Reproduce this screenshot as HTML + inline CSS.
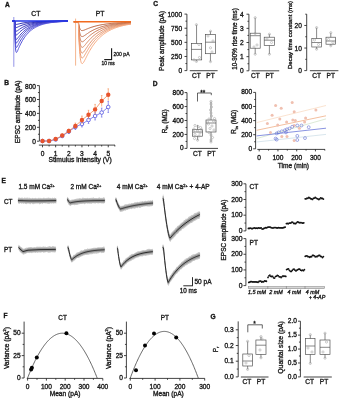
<!DOCTYPE html>
<html><head><meta charset="utf-8"><style>
html,body{margin:0;padding:0;background:#fff;}
svg{display:block;font-family:"Liberation Sans", sans-serif;}
text{-webkit-font-smoothing:antialiased;stroke:#1a1a1a;stroke-width:0.34px;}
.g{opacity:0.995}
</style></head><body>
<svg xmlns="http://www.w3.org/2000/svg" width="339" height="400" viewBox="0 0 339 400">
<defs><filter id="bl" x="0" y="0" width="100%" height="100%"><feGaussianBlur stdDeviation="0.0"/></filter></defs>
<rect width="339" height="400" fill="#fff"/>
<g class="g">
<text x="5.00" y="6.50" font-size="6.6" text-anchor="start" font-weight="bold" fill="#111">A</text>
<text x="4.20" y="85.30" font-size="6.6" text-anchor="start" font-weight="bold" fill="#111">B</text>
<text x="153.30" y="6.10" font-size="6.6" text-anchor="start" font-weight="bold" fill="#111">C</text>
<text x="152.80" y="86.40" font-size="6.6" text-anchor="start" font-weight="bold" fill="#111">D</text>
<text x="1.60" y="183.30" font-size="6.6" text-anchor="start" font-weight="bold" fill="#111">E</text>
<text x="3.50" y="318.20" font-size="6.6" text-anchor="start" font-weight="bold" fill="#111">F</text>
<text x="210.50" y="319.00" font-size="6.6" text-anchor="start" font-weight="bold" fill="#111">G</text>
<line x1="13.80" y1="17.00" x2="13.80" y2="66.80" stroke="#7878e0" stroke-width="0.8"/>
<polyline points="12.40,21.00 14.70,21.00 14.95,22.43 15.20,23.31 15.45,23.83 15.70,24.14 15.95,24.30 16.20,24.38 16.45,24.40 16.70,24.39 16.95,24.35 17.20,24.30 17.45,24.25 17.70,24.19 17.95,24.12 18.20,24.06 18.45,24.00 18.70,23.93 18.95,23.87 19.20,23.81 19.45,23.75 19.70,23.69 19.95,23.63 20.20,23.58 21.00,23.41 21.80,23.24 22.60,23.09 23.40,22.95 24.20,22.82 25.00,22.70 25.80,22.58 26.60,22.48 27.40,22.38 28.20,22.29 29.00,22.20 29.80,22.12 30.60,22.04 31.40,21.97 32.20,21.91 33.00,21.85 33.80,21.79 34.60,21.74 35.40,21.69 36.20,21.64 37.00,21.60 37.80,21.56 38.60,21.52 39.40,21.49 40.20,21.45 41.00,21.42 41.80,21.39 42.60,21.37 43.40,21.34 44.20,21.32 45.00,21.30 45.80,21.28 46.60,21.26 47.40,21.24 48.20,21.23 49.00,21.21 49.80,21.20 50.60,21.18 51.40,21.17 52.20,21.16 53.00,21.15 53.80,21.14 54.60,21.13 55.40,21.12 56.20,21.11 57.00,21.11 57.80,21.10 58.60,21.09 59.40,21.09 60.20,21.08 61.00,21.07 61.80,21.07 62.60,21.06 63.40,21.06 64.20,21.06 65.00,21.05 65.80,21.05 66.60,21.05 67.40,21.04 68.00,21.04" fill="none" stroke="#1010a8" stroke-width="1.0" stroke-linejoin="round"/>
<polyline points="12.40,21.00 14.70,21.00 14.95,23.73 15.20,25.41 15.45,26.42 15.70,27.00 15.95,27.31 16.20,27.46 16.45,27.50 16.70,27.47 16.95,27.41 17.20,27.31 17.45,27.21 17.70,27.09 17.95,26.97 18.20,26.85 18.45,26.73 18.70,26.61 18.95,26.49 19.20,26.38 19.45,26.26 19.70,26.15 19.95,26.04 20.20,25.93 21.00,25.60 21.80,25.29 22.60,25.00 23.40,24.73 24.20,24.48 25.00,24.25 25.80,24.03 26.60,23.83 27.40,23.64 28.20,23.46 29.00,23.29 29.80,23.14 30.60,23.00 31.40,22.86 32.20,22.74 33.00,22.62 33.80,22.51 34.60,22.41 35.40,22.31 36.20,22.23 37.00,22.14 37.80,22.07 38.60,22.00 39.40,21.93 40.20,21.87 41.00,21.81 41.80,21.75 42.60,21.70 43.40,21.66 44.20,21.61 45.00,21.57 45.80,21.53 46.60,21.50 47.40,21.46 48.20,21.43 49.00,21.40 49.80,21.38 50.60,21.35 51.40,21.33 52.20,21.31 53.00,21.28 53.80,21.27 54.60,21.25 55.40,21.23 56.20,21.22 57.00,21.20 57.80,21.19 58.60,21.17 59.40,21.16 60.20,21.15 61.00,21.14 61.80,21.13 62.60,21.12 63.40,21.12 64.20,21.11 65.00,21.10 65.80,21.09 66.60,21.09 67.40,21.08 68.00,21.08" fill="none" stroke="#1919af" stroke-width="1.0" stroke-linejoin="round"/>
<polyline points="12.40,21.00 14.70,21.00 14.95,25.29 15.20,27.92 15.45,29.50 15.70,30.41 15.95,30.91 16.20,31.14 16.45,31.20 16.70,31.16 16.95,31.05 17.20,30.91 17.45,30.74 17.70,30.56 17.95,30.37 18.20,30.18 18.45,29.99 18.70,29.80 18.95,29.62 19.20,29.43 19.45,29.25 19.70,29.08 19.95,28.90 20.20,28.74 21.00,28.22 21.80,27.73 22.60,27.28 23.40,26.86 24.20,26.46 25.00,26.10 25.80,25.75 26.60,25.43 27.40,25.14 28.20,24.86 29.00,24.60 29.80,24.36 30.60,24.13 31.40,23.92 32.20,23.72 33.00,23.54 33.80,23.37 34.60,23.21 35.40,23.06 36.20,22.92 37.00,22.79 37.80,22.67 38.60,22.56 39.40,22.46 40.20,22.36 41.00,22.27 41.80,22.18 42.60,22.10 43.40,22.03 44.20,21.96 45.00,21.90 45.80,21.84 46.60,21.78 47.40,21.73 48.20,21.68 49.00,21.63 49.80,21.59 50.60,21.55 51.40,21.51 52.20,21.48 53.00,21.45 53.80,21.42 54.60,21.39 55.40,21.36 56.20,21.34 57.00,21.32 57.80,21.29 58.60,21.27 59.40,21.26 60.20,21.24 61.00,21.22 61.80,21.21 62.60,21.19 63.40,21.18 64.20,21.17 65.00,21.16 65.80,21.15 66.60,21.14 67.40,21.13 68.00,21.12" fill="none" stroke="#2121b6" stroke-width="1.0" stroke-linejoin="round"/>
<polyline points="12.40,21.00 14.70,21.00 14.95,26.89 15.20,30.50 15.45,32.67 15.70,33.92 15.95,34.60 16.20,34.91 16.45,35.00 16.70,34.94 16.95,34.80 17.20,34.60 17.45,34.37 17.70,34.12 17.95,33.87 18.20,33.60 18.45,33.34 18.70,33.08 18.95,32.83 19.20,32.58 19.45,32.33 19.70,32.09 19.95,31.85 20.20,31.62 21.00,30.90 21.80,30.24 22.60,29.62 23.40,29.04 24.20,28.50 25.00,27.99 25.80,27.52 26.60,27.09 27.40,26.68 28.20,26.30 29.00,25.94 29.80,25.61 30.60,25.30 31.40,25.01 32.20,24.74 33.00,24.49 33.80,24.25 34.60,24.04 35.40,23.83 36.20,23.64 37.00,23.46 37.80,23.30 38.60,23.14 39.40,23.00 40.20,22.87 41.00,22.74 41.80,22.62 42.60,22.51 43.40,22.41 44.20,22.32 45.00,22.23 45.80,22.15 46.60,22.07 47.40,22.00 48.20,21.93 49.00,21.87 49.80,21.81 50.60,21.76 51.40,21.70 52.20,21.66 53.00,21.61 53.80,21.57 54.60,21.53 55.40,21.50 56.20,21.46 57.00,21.43 57.80,21.40 58.60,21.38 59.40,21.35 60.20,21.33 61.00,21.31 61.80,21.29 62.60,21.27 63.40,21.25 64.20,21.23 65.00,21.22 65.80,21.20 66.60,21.19 67.40,21.18 68.00,21.17" fill="none" stroke="#2a2abd" stroke-width="1.0" stroke-linejoin="round"/>
<polyline points="12.40,21.00 14.70,21.00 14.95,28.74 15.20,33.48 15.45,36.33 15.70,37.98 15.95,38.87 16.20,39.29 16.45,39.40 16.70,39.33 16.95,39.14 17.20,38.87 17.45,38.57 17.70,38.25 17.95,37.91 18.20,37.57 18.45,37.22 18.70,36.88 18.95,36.55 19.20,36.22 19.45,35.89 19.70,35.57 19.95,35.26 20.20,34.95 21.00,34.02 21.80,33.14 22.60,32.33 23.40,31.56 24.20,30.85 25.00,30.19 25.80,29.57 26.60,29.00 27.40,28.46 28.20,27.96 29.00,27.49 29.80,27.06 30.60,26.65 31.40,26.27 32.20,25.92 33.00,25.58 33.80,25.28 34.60,24.99 35.40,24.72 36.20,24.47 37.00,24.24 37.80,24.02 38.60,23.82 39.40,23.63 40.20,23.45 41.00,23.29 41.80,23.13 42.60,22.99 43.40,22.86 44.20,22.73 45.00,22.61 45.80,22.51 46.60,22.41 47.40,22.31 48.20,22.22 49.00,22.14 49.80,22.06 50.60,21.99 51.40,21.93 52.20,21.86 53.00,21.81 53.80,21.75 54.60,21.70 55.40,21.65 56.20,21.61 57.00,21.57 57.80,21.53 58.60,21.49 59.40,21.46 60.20,21.43 61.00,21.40 61.80,21.37 62.60,21.35 63.40,21.33 64.20,21.30 65.00,21.28 65.80,21.26 66.60,21.25 67.40,21.23 68.00,21.22" fill="none" stroke="#3232c3" stroke-width="1.0" stroke-linejoin="round"/>
<polyline points="12.40,21.00 14.70,21.00 14.95,30.25 15.20,35.93 15.45,39.33 15.70,41.31 15.95,42.37 16.20,42.87 16.45,43.00 16.70,42.91 16.95,42.68 17.20,42.37 17.45,42.01 17.70,41.62 17.95,41.22 18.20,40.81 18.45,40.40 18.70,39.99 18.95,39.59 19.20,39.19 19.45,38.80 19.70,38.42 19.95,38.05 20.20,37.68 21.00,36.56 21.80,35.52 22.60,34.54 23.40,33.63 24.20,32.78 25.00,31.99 25.80,31.25 26.60,30.56 27.40,29.92 28.20,29.32 29.00,28.76 29.80,28.24 30.60,27.75 31.40,27.30 32.20,26.88 33.00,26.48 33.80,26.11 34.60,25.77 35.40,25.45 36.20,25.15 37.00,24.87 37.80,24.61 38.60,24.37 39.40,24.14 40.20,23.93 41.00,23.73 41.80,23.55 42.60,23.38 43.40,23.22 44.20,23.07 45.00,22.93 45.80,22.80 46.60,22.68 47.40,22.57 48.20,22.46 49.00,22.36 49.80,22.27 50.60,22.19 51.40,22.11 52.20,22.03 53.00,21.96 53.80,21.90 54.60,21.84 55.40,21.78 56.20,21.73 57.00,21.68 57.80,21.63 58.60,21.59 59.40,21.55 60.20,21.51 61.00,21.48 61.80,21.45 62.60,21.42 63.40,21.39 64.20,21.36 65.00,21.34 65.80,21.32 66.60,21.30 67.40,21.28 68.00,21.26" fill="none" stroke="#3b3bca" stroke-width="1.0" stroke-linejoin="round"/>
<polyline points="12.40,21.00 14.70,21.00 14.95,32.15 15.20,38.98 15.45,43.08 15.70,45.46 15.95,46.74 16.20,47.34 16.45,47.50 16.70,47.39 16.95,47.12 17.20,46.74 17.45,46.31 17.70,45.84 17.95,45.35 18.20,44.86 18.45,44.37 18.70,43.88 18.95,43.39 19.20,42.91 19.45,42.45 19.70,41.99 19.95,41.54 20.20,41.10 21.00,39.75 21.80,38.49 22.60,37.31 23.40,36.22 24.20,35.19 25.00,34.24 25.80,33.35 26.60,32.52 27.40,31.75 28.20,31.02 29.00,30.35 29.80,29.72 30.60,29.14 31.40,28.59 32.20,28.08 33.00,27.60 33.80,27.16 34.60,26.75 35.40,26.36 36.20,26.00 37.00,25.66 37.80,25.35 38.60,25.06 39.40,24.78 40.20,24.53 41.00,24.29 41.80,24.07 42.60,23.87 43.40,23.67 44.20,23.49 45.00,23.33 45.80,23.17 46.60,23.02 47.40,22.89 48.20,22.76 49.00,22.64 49.80,22.53 50.60,22.43 51.40,22.33 52.20,22.24 53.00,22.16 53.80,22.08 54.60,22.01 55.40,21.94 56.20,21.88 57.00,21.82 57.80,21.76 58.60,21.71 59.40,21.66 60.20,21.62 61.00,21.58 61.80,21.54 62.60,21.50 63.40,21.47 64.20,21.44 65.00,21.41 65.80,21.38 66.60,21.36 67.40,21.33 68.00,21.31" fill="none" stroke="#4343d1" stroke-width="1.0" stroke-linejoin="round"/>
<polyline points="12.40,21.00 14.70,21.00 14.95,34.25 15.20,42.37 15.45,47.25 15.70,50.07 15.95,51.60 16.20,52.31 16.45,52.50 16.70,52.37 16.95,52.05 17.20,51.60 17.45,51.08 17.70,50.53 17.95,49.95 18.20,49.36 18.45,48.77 18.70,48.19 18.95,47.62 19.20,47.05 19.45,46.49 19.70,45.95 19.95,45.41 20.20,44.89 21.00,43.28 21.80,41.79 22.60,40.39 23.40,39.09 24.20,37.87 25.00,36.74 25.80,35.68 26.60,34.69 27.40,33.77 28.20,32.91 29.00,32.11 29.80,31.37 30.60,30.67 31.40,30.02 32.20,29.41 33.00,28.85 33.80,28.32 34.60,27.83 35.40,27.37 36.20,26.94 37.00,26.54 37.80,26.17 38.60,25.82 39.40,25.50 40.20,25.20 41.00,24.91 41.80,24.65 42.60,24.41 43.40,24.18 44.20,23.96 45.00,23.76 45.80,23.58 46.60,23.41 47.40,23.24 48.20,23.09 49.00,22.95 49.80,22.82 50.60,22.70 51.40,22.58 52.20,22.48 53.00,22.38 53.80,22.29 54.60,22.20 55.40,22.12 56.20,22.04 57.00,21.97 57.80,21.91 58.60,21.85 59.40,21.79 60.20,21.74 61.00,21.69 61.80,21.64 62.60,21.60 63.40,21.56 64.20,21.52 65.00,21.49 65.80,21.45 66.60,21.42 67.40,21.39 68.00,21.37" fill="none" stroke="#4c4cd8" stroke-width="1.0" stroke-linejoin="round"/>
<line x1="12.40" y1="21.00" x2="68.00" y2="21.00" stroke="#2233e6" stroke-width="1.6"/>
<line x1="75.60" y1="18.60" x2="75.60" y2="65.60" stroke="#f0a070" stroke-width="0.8"/>
<polyline points="73.70,21.80 78.40,21.80 78.65,23.59 78.90,25.07 79.15,26.28 79.40,27.26 79.65,28.06 79.90,28.70 80.15,29.21 80.40,29.61 80.65,29.92 80.90,30.16 81.15,30.34 81.40,30.46 81.65,30.54 81.90,30.58 82.15,30.60 82.40,30.59 82.65,30.56 82.90,30.52 83.15,30.46 83.40,30.39 83.65,30.31 83.90,30.22 84.15,30.13 84.40,30.04 84.65,29.94 84.90,29.84 85.15,29.73 85.40,29.63 85.65,29.52 85.90,29.42 86.15,29.31 86.40,29.20 86.65,29.10 86.90,28.99 87.15,28.89 87.40,28.79 87.65,28.68 87.90,28.58 88.15,28.48 88.40,28.38 88.65,28.29 88.90,28.19 89.15,28.09 89.40,28.00 89.65,27.91 89.90,27.82 90.70,27.53 91.50,27.26 92.30,27.00 93.10,26.76 93.90,26.52 94.70,26.30 95.50,26.09 96.30,25.88 97.10,25.69 97.90,25.51 98.70,25.33 99.50,25.16 100.30,25.01 101.10,24.85 101.90,24.71 102.70,24.57 103.50,24.44 104.30,24.32 105.10,24.20 105.90,24.08 106.70,23.97 107.50,23.87 108.30,23.77 109.10,23.68 109.90,23.59 110.70,23.51 111.50,23.43 112.30,23.35 113.10,23.28 113.90,23.21 114.70,23.14 115.50,23.08 116.30,23.02 117.10,22.96 117.90,22.90 118.70,22.85 119.50,22.80 120.30,22.75 121.10,22.71 121.90,22.67 122.70,22.62 123.50,22.59 124.30,22.55 125.10,22.51 125.90,22.48 126.70,22.45 127.50,22.42 128.30,22.39 129.10,22.36 129.90,22.33 130.70,22.31 131.00,22.30" fill="none" stroke="#b0542e" stroke-width="1.0" stroke-linejoin="round"/>
<polyline points="73.70,21.80 78.40,21.80 78.65,24.82 78.90,27.30 79.15,29.33 79.40,30.98 79.65,32.32 79.90,33.40 80.15,34.26 80.40,34.94 80.65,35.46 80.90,35.86 81.15,36.16 81.40,36.36 81.65,36.50 81.90,36.57 82.15,36.60 82.40,36.58 82.65,36.54 82.90,36.46 83.15,36.36 83.40,36.24 83.65,36.11 83.90,35.97 84.15,35.81 84.40,35.65 84.65,35.48 84.90,35.31 85.15,35.14 85.40,34.96 85.65,34.79 85.90,34.61 86.15,34.43 86.40,34.25 86.65,34.07 86.90,33.90 87.15,33.72 87.40,33.55 87.65,33.38 87.90,33.21 88.15,33.04 88.40,32.87 88.65,32.71 88.90,32.55 89.15,32.39 89.40,32.23 89.65,32.07 89.90,31.92 90.70,31.44 91.50,30.99 92.30,30.55 93.10,30.14 93.90,29.75 94.70,29.37 95.50,29.01 96.30,28.67 97.10,28.34 97.90,28.04 98.70,27.74 99.50,27.46 100.30,27.19 101.10,26.94 101.90,26.69 102.70,26.46 103.50,26.24 104.30,26.03 105.10,25.83 105.90,25.64 106.70,25.46 107.50,25.28 108.30,25.12 109.10,24.96 109.90,24.81 110.70,24.67 111.50,24.53 112.30,24.41 113.10,24.28 113.90,24.16 114.70,24.05 115.50,23.95 116.30,23.84 117.10,23.75 117.90,23.66 118.70,23.57 119.50,23.48 120.30,23.40 121.10,23.33 121.90,23.26 122.70,23.19 123.50,23.12 124.30,23.06 125.10,23.00 125.90,22.94 126.70,22.89 127.50,22.84 128.30,22.79 129.10,22.74 129.90,22.70 130.70,22.65 131.00,22.64" fill="none" stroke="#bc613a" stroke-width="1.0" stroke-linejoin="round"/>
<polyline points="73.70,21.80 78.40,21.80 78.65,25.88 78.90,29.23 79.15,31.97 79.40,34.21 79.65,36.02 79.90,37.47 80.15,38.64 80.40,39.55 80.65,40.26 80.90,40.80 81.15,41.20 81.40,41.48 81.65,41.66 81.90,41.77 82.15,41.80 82.40,41.78 82.65,41.71 82.90,41.61 83.15,41.48 83.40,41.32 83.65,41.14 83.90,40.94 84.15,40.74 84.40,40.52 84.65,40.29 84.90,40.06 85.15,39.83 85.40,39.59 85.65,39.35 85.90,39.11 86.15,38.87 86.40,38.63 86.65,38.39 86.90,38.15 87.15,37.91 87.40,37.68 87.65,37.44 87.90,37.22 88.15,36.99 88.40,36.76 88.65,36.54 88.90,36.32 89.15,36.11 89.40,35.89 89.65,35.68 89.90,35.48 90.70,34.83 91.50,34.22 92.30,33.63 93.10,33.07 93.90,32.54 94.70,32.03 95.50,31.54 96.30,31.08 97.10,30.64 97.90,30.23 98.70,29.83 99.50,29.45 100.30,29.09 101.10,28.74 101.90,28.41 102.70,28.10 103.50,27.80 104.30,27.52 105.10,27.25 105.90,26.99 106.70,26.74 107.50,26.51 108.30,26.29 109.10,26.07 109.90,25.87 110.70,25.68 111.50,25.50 112.30,25.32 113.10,25.15 113.90,25.00 114.70,24.84 115.50,24.70 116.30,24.56 117.10,24.43 117.90,24.31 118.70,24.19 119.50,24.08 120.30,23.97 121.10,23.87 121.90,23.77 122.70,23.67 123.50,23.59 124.30,23.50 125.10,23.42 125.90,23.34 126.70,23.27 127.50,23.20 128.30,23.13 129.10,23.07 129.90,23.01 130.70,22.95 131.00,22.93" fill="none" stroke="#c76f47" stroke-width="1.0" stroke-linejoin="round"/>
<polyline points="73.70,21.80 78.40,21.80 78.65,27.02 78.90,31.31 79.15,34.82 79.40,37.68 79.65,40.00 79.90,41.86 80.15,43.35 80.40,44.52 80.65,45.43 80.90,46.12 81.15,46.63 81.40,46.99 81.65,47.23 81.90,47.36 82.15,47.40 82.40,47.37 82.65,47.29 82.90,47.16 83.15,46.98 83.40,46.78 83.65,46.55 83.90,46.30 84.15,46.04 84.40,45.76 84.65,45.47 84.90,45.17 85.15,44.87 85.40,44.57 85.65,44.26 85.90,43.95 86.15,43.64 86.40,43.34 86.65,43.03 86.90,42.73 87.15,42.42 87.40,42.12 87.65,41.83 87.90,41.53 88.15,41.24 88.40,40.95 88.65,40.67 88.90,40.39 89.15,40.11 89.40,39.84 89.65,39.57 89.90,39.30 90.70,38.48 91.50,37.69 92.30,36.94 93.10,36.23 93.90,35.54 94.70,34.89 95.50,34.27 96.30,33.68 97.10,33.12 97.90,32.58 98.70,32.07 99.50,31.59 100.30,31.13 101.10,30.68 101.90,30.26 102.70,29.86 103.50,29.48 104.30,29.12 105.10,28.77 105.90,28.44 106.70,28.13 107.50,27.83 108.30,27.54 109.10,27.27 109.90,27.01 110.70,26.76 111.50,26.53 112.30,26.31 113.10,26.09 113.90,25.89 114.70,25.70 115.50,25.51 116.30,25.34 117.10,25.17 117.90,25.01 118.70,24.86 119.50,24.71 120.30,24.57 121.10,24.44 121.90,24.32 122.70,24.20 123.50,24.09 124.30,23.98 125.10,23.87 125.90,23.78 126.70,23.68 127.50,23.59 128.30,23.51 129.10,23.43 129.90,23.35 130.70,23.28 131.00,23.25" fill="none" stroke="#d37c53" stroke-width="1.0" stroke-linejoin="round"/>
<polyline points="73.70,21.80 78.40,21.80 78.65,28.16 78.90,33.39 79.15,37.67 79.40,41.16 79.65,43.98 79.90,46.25 80.15,48.06 80.40,49.49 80.65,50.60 80.90,51.44 81.15,52.06 81.40,52.50 81.65,52.79 81.90,52.95 82.15,53.00 82.40,52.97 82.65,52.86 82.90,52.70 83.15,52.49 83.40,52.25 83.65,51.97 83.90,51.66 84.15,51.34 84.40,51.00 84.65,50.65 84.90,50.29 85.15,49.92 85.40,49.55 85.65,49.17 85.90,48.80 86.15,48.42 86.40,48.05 86.65,47.67 86.90,47.30 87.15,46.93 87.40,46.57 87.65,46.21 87.90,45.85 88.15,45.49 88.40,45.14 88.65,44.80 88.90,44.46 89.15,44.12 89.40,43.79 89.65,43.46 89.90,43.13 90.70,42.13 91.50,41.17 92.30,40.25 93.10,39.38 93.90,38.55 94.70,37.76 95.50,37.00 96.30,36.28 97.10,35.60 97.90,34.94 98.70,34.32 99.50,33.73 100.30,33.16 101.10,32.63 101.90,32.11 102.70,31.63 103.50,31.16 104.30,30.72 105.10,30.30 105.90,29.89 106.70,29.51 107.50,29.15 108.30,28.80 109.10,28.47 109.90,28.15 110.70,27.85 111.50,27.56 112.30,27.29 113.10,27.03 113.90,26.78 114.70,26.55 115.50,26.32 116.30,26.11 117.10,25.91 117.90,25.71 118.70,25.53 119.50,25.35 120.30,25.18 121.10,25.02 121.90,24.87 122.70,24.72 123.50,24.59 124.30,24.45 125.10,24.33 125.90,24.21 126.70,24.09 127.50,23.99 128.30,23.88 129.10,23.78 129.90,23.69 130.70,23.60 131.00,23.57" fill="none" stroke="#df895f" stroke-width="1.0" stroke-linejoin="round"/>
<polyline points="73.70,21.80 78.40,21.80 78.65,29.18 78.90,35.25 79.15,40.21 79.40,44.26 79.65,47.53 79.90,50.17 80.15,52.27 80.40,53.93 80.65,55.22 80.90,56.19 81.15,56.91 81.40,57.42 81.65,57.75 81.90,57.94 82.15,58.00 82.40,57.96 82.65,57.84 82.90,57.66 83.15,57.41 83.40,57.13 83.65,56.80 83.90,56.45 84.15,56.07 84.40,55.68 84.65,55.27 84.90,54.85 85.15,54.43 85.40,54.00 85.65,53.56 85.90,53.13 86.15,52.69 86.40,52.25 86.65,51.82 86.90,51.39 87.15,50.96 87.40,50.54 87.65,50.12 87.90,49.70 88.15,49.29 88.40,48.88 88.65,48.48 88.90,48.09 89.15,47.69 89.40,47.31 89.65,46.93 89.90,46.55 90.70,45.39 91.50,44.27 92.30,43.21 93.10,42.20 93.90,41.23 94.70,40.31 95.50,39.44 96.30,38.60 97.10,37.81 97.90,37.05 98.70,36.33 99.50,35.64 100.30,34.99 101.10,34.36 101.90,33.77 102.70,33.20 103.50,32.66 104.30,32.15 105.10,31.66 105.90,31.19 106.70,30.75 107.50,30.32 108.30,29.92 109.10,29.54 109.90,29.17 110.70,28.82 111.50,28.49 112.30,28.17 113.10,27.87 113.90,27.58 114.70,27.31 115.50,27.05 116.30,26.80 117.10,26.56 117.90,26.34 118.70,26.12 119.50,25.92 120.30,25.72 121.10,25.54 121.90,25.36 122.70,25.19 123.50,25.03 124.30,24.88 125.10,24.73 125.90,24.59 126.70,24.46 127.50,24.34 128.30,24.22 129.10,24.10 129.90,23.99 130.70,23.89 131.00,23.85" fill="none" stroke="#ea976c" stroke-width="1.0" stroke-linejoin="round"/>
<polyline points="73.70,21.80 78.40,21.80 78.65,30.33 78.90,37.33 79.15,43.06 79.40,47.73 79.65,51.51 79.90,54.56 80.15,56.99 80.40,58.90 80.65,60.39 80.90,61.51 81.15,62.35 81.40,62.93 81.65,63.31 81.90,63.53 82.15,63.60 82.40,63.56 82.65,63.42 82.90,63.20 83.15,62.92 83.40,62.59 83.65,62.22 83.90,61.81 84.15,61.38 84.40,60.92 84.65,60.45 84.90,59.97 85.15,59.47 85.40,58.98 85.65,58.48 85.90,57.97 86.15,57.47 86.40,56.97 86.65,56.46 86.90,55.97 87.15,55.47 87.40,54.98 87.65,54.50 87.90,54.02 88.15,53.54 88.40,53.07 88.65,52.61 88.90,52.15 89.15,51.70 89.40,51.25 89.65,50.82 89.90,50.38 90.70,49.04 91.50,47.75 92.30,46.52 93.10,45.35 93.90,44.24 94.70,43.18 95.50,42.17 96.30,41.20 97.10,40.28 97.90,39.41 98.70,38.58 99.50,37.78 100.30,37.03 101.10,36.31 101.90,35.62 102.70,34.96 103.50,34.34 104.30,33.75 105.10,33.18 105.90,32.64 106.70,32.13 107.50,31.64 108.30,31.18 109.10,30.73 109.90,30.31 110.70,29.91 111.50,29.52 112.30,29.16 113.10,28.81 113.90,28.48 114.70,28.16 115.50,27.86 116.30,27.57 117.10,27.30 117.90,27.04 118.70,26.79 119.50,26.56 120.30,26.33 121.10,26.12 121.90,25.91 122.70,25.72 123.50,25.53 124.30,25.36 125.10,25.19 125.90,25.03 126.70,24.87 127.50,24.73 128.30,24.59 129.10,24.46 129.90,24.33 130.70,24.21 131.00,24.17" fill="none" stroke="#f6a478" stroke-width="1.0" stroke-linejoin="round"/>
<line x1="73.70" y1="21.80" x2="131.00" y2="21.80" stroke="#f26a1e" stroke-width="1.6"/>
<text x="35.90" y="15.70" font-size="6.8" text-anchor="middle" fill="#1a1a1a">CT</text>
<text x="100.10" y="15.70" font-size="6.8" text-anchor="middle" fill="#1a1a1a">PT</text>
<line x1="111.60" y1="48.30" x2="111.60" y2="59.60" stroke="#111" stroke-width="1.1"/>
<line x1="104.20" y1="59.60" x2="112.10" y2="59.60" stroke="#111" stroke-width="1.1"/>
<text x="113.50" y="56.20" font-size="5.8" text-anchor="start" fill="#1a1a1a" textLength="16.0" lengthAdjust="spacingAndGlyphs">200 pA</text>
<text x="101.40" y="65.20" font-size="5.8" text-anchor="start" fill="#1a1a1a" textLength="13.4" lengthAdjust="spacingAndGlyphs">10 ms</text>
<line x1="186.90" y1="14.10" x2="186.90" y2="70.60" stroke="#222" stroke-width="0.85"/>
<line x1="184.50" y1="70.60" x2="186.90" y2="70.60" stroke="#222" stroke-width="0.85"/>
<text x="182.10" y="73.25" font-size="6.6" text-anchor="end" fill="#1a1a1a">0</text>
<line x1="184.50" y1="56.47" x2="186.90" y2="56.47" stroke="#222" stroke-width="0.85"/>
<text x="182.10" y="59.12" font-size="6.6" text-anchor="end" fill="#1a1a1a">250</text>
<line x1="184.50" y1="42.35" x2="186.90" y2="42.35" stroke="#222" stroke-width="0.85"/>
<text x="182.10" y="45.00" font-size="6.6" text-anchor="end" fill="#1a1a1a">500</text>
<line x1="184.50" y1="28.23" x2="186.90" y2="28.23" stroke="#222" stroke-width="0.85"/>
<text x="182.10" y="30.88" font-size="6.6" text-anchor="end" fill="#1a1a1a">750</text>
<line x1="184.50" y1="14.10" x2="186.90" y2="14.10" stroke="#222" stroke-width="0.85"/>
<text x="182.10" y="16.75" font-size="6.6" text-anchor="end" fill="#1a1a1a">1000</text>
<line x1="185.46" y1="63.54" x2="186.90" y2="63.54" stroke="#222" stroke-width="0.85"/>
<line x1="185.46" y1="49.41" x2="186.90" y2="49.41" stroke="#222" stroke-width="0.85"/>
<line x1="185.46" y1="35.29" x2="186.90" y2="35.29" stroke="#222" stroke-width="0.85"/>
<line x1="185.46" y1="21.16" x2="186.90" y2="21.16" stroke="#222" stroke-width="0.85"/>
<line x1="189.80" y1="70.70" x2="217.60" y2="70.70" stroke="#222" stroke-width="0.85"/>
<line x1="196.55" y1="24.70" x2="196.55" y2="43.40" stroke="#484848" stroke-width="0.65"/>
<line x1="196.55" y1="59.90" x2="196.55" y2="61.40" stroke="#484848" stroke-width="0.65"/>
<rect x="191.40" y="43.40" width="10.30" height="16.50" fill="none" stroke="#484848" stroke-width="0.65"/>
<line x1="191.40" y1="49.40" x2="201.70" y2="49.40" stroke="#484848" stroke-width="0.65"/>
<circle cx="196.40" cy="24.70" r="1.1" fill="none" stroke="#9a9a9a" stroke-width="0.5"/>
<circle cx="199.00" cy="44.50" r="1.1" fill="none" stroke="#9a9a9a" stroke-width="0.5"/>
<circle cx="199.50" cy="57.50" r="1.1" fill="none" stroke="#9a9a9a" stroke-width="0.5"/>
<circle cx="194.00" cy="59.90" r="1.1" fill="none" stroke="#9a9a9a" stroke-width="0.5"/>
<circle cx="196.40" cy="61.40" r="1.1" fill="none" stroke="#9a9a9a" stroke-width="0.5"/>
<line x1="210.45" y1="31.20" x2="210.45" y2="34.40" stroke="#484848" stroke-width="0.65"/>
<line x1="210.45" y1="53.70" x2="210.45" y2="61.60" stroke="#484848" stroke-width="0.65"/>
<rect x="205.40" y="34.40" width="10.10" height="19.30" fill="none" stroke="#484848" stroke-width="0.65"/>
<line x1="205.40" y1="42.20" x2="215.50" y2="42.20" stroke="#484848" stroke-width="0.65"/>
<circle cx="210.50" cy="31.20" r="1.1" fill="none" stroke="#9a9a9a" stroke-width="0.5"/>
<circle cx="208.00" cy="36.00" r="1.1" fill="none" stroke="#9a9a9a" stroke-width="0.5"/>
<circle cx="213.00" cy="41.00" r="1.1" fill="none" stroke="#9a9a9a" stroke-width="0.5"/>
<circle cx="210.50" cy="47.80" r="1.1" fill="none" stroke="#9a9a9a" stroke-width="0.5"/>
<circle cx="212.00" cy="52.00" r="1.1" fill="none" stroke="#9a9a9a" stroke-width="0.5"/>
<circle cx="210.50" cy="61.60" r="1.1" fill="none" stroke="#9a9a9a" stroke-width="0.5"/>
<text x="196.50" y="78.00" font-size="6.6" text-anchor="middle" fill="#1a1a1a">CT</text>
<text x="210.50" y="78.00" font-size="6.6" text-anchor="middle" fill="#1a1a1a">PT</text>
<text x="164.30" y="41.00" font-size="6.6" text-anchor="middle" fill="#1a1a1a" transform="rotate(-90 164.3 41.0)">Peak amplitude (pA)</text>
<line x1="248.90" y1="14.20" x2="248.90" y2="70.80" stroke="#222" stroke-width="0.85"/>
<line x1="246.50" y1="70.80" x2="248.90" y2="70.80" stroke="#222" stroke-width="0.85"/>
<text x="243.70" y="73.45" font-size="6.6" text-anchor="end" fill="#1a1a1a">0</text>
<line x1="246.50" y1="56.65" x2="248.90" y2="56.65" stroke="#222" stroke-width="0.85"/>
<text x="243.70" y="59.30" font-size="6.6" text-anchor="end" fill="#1a1a1a">1</text>
<line x1="246.50" y1="42.50" x2="248.90" y2="42.50" stroke="#222" stroke-width="0.85"/>
<text x="243.70" y="45.15" font-size="6.6" text-anchor="end" fill="#1a1a1a">2</text>
<line x1="246.50" y1="28.35" x2="248.90" y2="28.35" stroke="#222" stroke-width="0.85"/>
<text x="243.70" y="31.00" font-size="6.6" text-anchor="end" fill="#1a1a1a">3</text>
<line x1="246.50" y1="14.20" x2="248.90" y2="14.20" stroke="#222" stroke-width="0.85"/>
<text x="243.70" y="16.85" font-size="6.6" text-anchor="end" fill="#1a1a1a">4</text>
<line x1="247.46" y1="63.72" x2="248.90" y2="63.72" stroke="#222" stroke-width="0.85"/>
<line x1="247.46" y1="49.58" x2="248.90" y2="49.58" stroke="#222" stroke-width="0.85"/>
<line x1="247.46" y1="35.42" x2="248.90" y2="35.42" stroke="#222" stroke-width="0.85"/>
<line x1="247.46" y1="21.28" x2="248.90" y2="21.28" stroke="#222" stroke-width="0.85"/>
<line x1="251.60" y1="70.80" x2="279.20" y2="70.80" stroke="#222" stroke-width="0.85"/>
<line x1="255.20" y1="17.70" x2="255.20" y2="33.20" stroke="#484848" stroke-width="0.65"/>
<line x1="255.20" y1="48.20" x2="255.20" y2="54.20" stroke="#484848" stroke-width="0.65"/>
<rect x="250.20" y="33.20" width="10.00" height="15.00" fill="none" stroke="#484848" stroke-width="0.65"/>
<line x1="250.20" y1="35.70" x2="260.20" y2="35.70" stroke="#484848" stroke-width="0.65"/>
<circle cx="255.20" cy="17.70" r="1.1" fill="none" stroke="#9a9a9a" stroke-width="0.5"/>
<circle cx="255.20" cy="33.50" r="1.1" fill="none" stroke="#9a9a9a" stroke-width="0.5"/>
<circle cx="257.00" cy="45.00" r="1.1" fill="none" stroke="#9a9a9a" stroke-width="0.5"/>
<circle cx="254.00" cy="47.00" r="1.1" fill="none" stroke="#9a9a9a" stroke-width="0.5"/>
<circle cx="255.20" cy="54.20" r="1.1" fill="none" stroke="#9a9a9a" stroke-width="0.5"/>
<line x1="269.40" y1="34.20" x2="269.40" y2="37.20" stroke="#484848" stroke-width="0.65"/>
<line x1="269.40" y1="45.50" x2="269.40" y2="54.20" stroke="#484848" stroke-width="0.65"/>
<rect x="264.20" y="37.20" width="10.40" height="8.30" fill="none" stroke="#484848" stroke-width="0.65"/>
<line x1="264.20" y1="40.20" x2="274.60" y2="40.20" stroke="#484848" stroke-width="0.65"/>
<circle cx="269.40" cy="34.20" r="1.1" fill="none" stroke="#9a9a9a" stroke-width="0.5"/>
<circle cx="267.00" cy="39.00" r="1.1" fill="none" stroke="#9a9a9a" stroke-width="0.5"/>
<circle cx="271.50" cy="42.50" r="1.1" fill="none" stroke="#9a9a9a" stroke-width="0.5"/>
<circle cx="269.40" cy="54.20" r="1.1" fill="none" stroke="#9a9a9a" stroke-width="0.5"/>
<text x="255.40" y="78.00" font-size="6.6" text-anchor="middle" fill="#1a1a1a">CT</text>
<text x="269.60" y="78.00" font-size="6.6" text-anchor="middle" fill="#1a1a1a">PT</text>
<text x="236.90" y="39.00" font-size="6.3" text-anchor="middle" fill="#1a1a1a" transform="rotate(-90 236.9 39.0)">10-90% rise time (ms)</text>
<line x1="306.70" y1="14.20" x2="306.70" y2="70.60" stroke="#222" stroke-width="0.85"/>
<line x1="304.30" y1="70.60" x2="306.70" y2="70.60" stroke="#222" stroke-width="0.85"/>
<text x="301.90" y="73.25" font-size="6.6" text-anchor="end" fill="#1a1a1a">0</text>
<line x1="304.30" y1="48.04" x2="306.70" y2="48.04" stroke="#222" stroke-width="0.85"/>
<text x="301.90" y="50.69" font-size="6.6" text-anchor="end" fill="#1a1a1a">10</text>
<line x1="304.30" y1="25.48" x2="306.70" y2="25.48" stroke="#222" stroke-width="0.85"/>
<text x="301.90" y="28.13" font-size="6.6" text-anchor="end" fill="#1a1a1a">20</text>
<line x1="305.26" y1="59.32" x2="306.70" y2="59.32" stroke="#222" stroke-width="0.85"/>
<line x1="305.26" y1="36.76" x2="306.70" y2="36.76" stroke="#222" stroke-width="0.85"/>
<line x1="305.26" y1="14.20" x2="306.70" y2="14.20" stroke="#222" stroke-width="0.85"/>
<line x1="309.90" y1="70.70" x2="338.40" y2="70.70" stroke="#222" stroke-width="0.85"/>
<line x1="316.60" y1="27.60" x2="316.60" y2="38.50" stroke="#484848" stroke-width="0.65"/>
<line x1="316.60" y1="47.00" x2="316.60" y2="49.20" stroke="#484848" stroke-width="0.65"/>
<rect x="311.80" y="38.50" width="9.60" height="8.50" fill="none" stroke="#484848" stroke-width="0.65"/>
<line x1="311.80" y1="42.50" x2="321.40" y2="42.50" stroke="#484848" stroke-width="0.65"/>
<circle cx="316.60" cy="27.60" r="1.1" fill="none" stroke="#9a9a9a" stroke-width="0.5"/>
<circle cx="314.50" cy="40.00" r="1.1" fill="none" stroke="#9a9a9a" stroke-width="0.5"/>
<circle cx="318.50" cy="44.50" r="1.1" fill="none" stroke="#9a9a9a" stroke-width="0.5"/>
<circle cx="316.60" cy="49.20" r="1.1" fill="none" stroke="#9a9a9a" stroke-width="0.5"/>
<line x1="330.80" y1="32.70" x2="330.80" y2="37.20" stroke="#484848" stroke-width="0.65"/>
<line x1="330.80" y1="44.20" x2="330.80" y2="45.80" stroke="#484848" stroke-width="0.65"/>
<rect x="326.00" y="37.20" width="9.60" height="7.00" fill="none" stroke="#484848" stroke-width="0.65"/>
<line x1="326.00" y1="41.00" x2="335.60" y2="41.00" stroke="#484848" stroke-width="0.65"/>
<circle cx="330.80" cy="32.70" r="1.1" fill="none" stroke="#9a9a9a" stroke-width="0.5"/>
<circle cx="328.50" cy="39.50" r="1.1" fill="none" stroke="#9a9a9a" stroke-width="0.5"/>
<circle cx="333.00" cy="42.50" r="1.1" fill="none" stroke="#9a9a9a" stroke-width="0.5"/>
<circle cx="330.80" cy="45.80" r="1.1" fill="none" stroke="#9a9a9a" stroke-width="0.5"/>
<text x="316.60" y="78.00" font-size="6.6" text-anchor="middle" fill="#1a1a1a">CT</text>
<text x="330.80" y="78.00" font-size="6.6" text-anchor="middle" fill="#1a1a1a">PT</text>
<text x="292.30" y="35.00" font-size="6.0" text-anchor="middle" fill="#1a1a1a" transform="rotate(-90 292.3 35.0)">Decay time constant (ms)</text>
<line x1="39.40" y1="85.60" x2="39.40" y2="141.20" stroke="#222" stroke-width="0.85"/>
<line x1="37.00" y1="141.20" x2="39.40" y2="141.20" stroke="#222" stroke-width="0.85"/>
<text x="36.00" y="144.10" font-size="6.6" text-anchor="end" fill="#1a1a1a">0</text>
<line x1="37.00" y1="127.30" x2="39.40" y2="127.30" stroke="#222" stroke-width="0.85"/>
<text x="36.00" y="130.20" font-size="6.6" text-anchor="end" fill="#1a1a1a">200</text>
<line x1="37.00" y1="113.40" x2="39.40" y2="113.40" stroke="#222" stroke-width="0.85"/>
<text x="36.00" y="116.30" font-size="6.6" text-anchor="end" fill="#1a1a1a">400</text>
<line x1="37.00" y1="99.50" x2="39.40" y2="99.50" stroke="#222" stroke-width="0.85"/>
<text x="36.00" y="102.40" font-size="6.6" text-anchor="end" fill="#1a1a1a">600</text>
<line x1="37.00" y1="85.60" x2="39.40" y2="85.60" stroke="#222" stroke-width="0.85"/>
<text x="36.00" y="88.50" font-size="6.6" text-anchor="end" fill="#1a1a1a">800</text>
<line x1="37.96" y1="134.25" x2="39.40" y2="134.25" stroke="#222" stroke-width="0.85"/>
<line x1="37.96" y1="120.35" x2="39.40" y2="120.35" stroke="#222" stroke-width="0.85"/>
<line x1="37.96" y1="106.45" x2="39.40" y2="106.45" stroke="#222" stroke-width="0.85"/>
<line x1="37.96" y1="92.55" x2="39.40" y2="92.55" stroke="#222" stroke-width="0.85"/>
<line x1="38.90" y1="145.10" x2="115.00" y2="145.10" stroke="#222" stroke-width="0.85"/>
<line x1="42.50" y1="145.10" x2="42.50" y2="147.30" stroke="#222" stroke-width="0.85"/>
<text x="42.50" y="156.20" font-size="6.6" text-anchor="middle" fill="#1a1a1a">0</text>
<line x1="49.08" y1="145.10" x2="49.08" y2="146.50" stroke="#222" stroke-width="0.85"/>
<line x1="55.65" y1="145.10" x2="55.65" y2="147.30" stroke="#222" stroke-width="0.85"/>
<text x="55.65" y="156.20" font-size="6.6" text-anchor="middle" fill="#1a1a1a">1</text>
<line x1="62.23" y1="145.10" x2="62.23" y2="146.50" stroke="#222" stroke-width="0.85"/>
<line x1="68.80" y1="145.10" x2="68.80" y2="147.30" stroke="#222" stroke-width="0.85"/>
<text x="68.80" y="156.20" font-size="6.6" text-anchor="middle" fill="#1a1a1a">2</text>
<line x1="75.38" y1="145.10" x2="75.38" y2="146.50" stroke="#222" stroke-width="0.85"/>
<line x1="81.95" y1="145.10" x2="81.95" y2="147.30" stroke="#222" stroke-width="0.85"/>
<text x="81.95" y="156.20" font-size="6.6" text-anchor="middle" fill="#1a1a1a">3</text>
<line x1="88.53" y1="145.10" x2="88.53" y2="146.50" stroke="#222" stroke-width="0.85"/>
<line x1="95.10" y1="145.10" x2="95.10" y2="147.30" stroke="#222" stroke-width="0.85"/>
<text x="95.10" y="156.20" font-size="6.6" text-anchor="middle" fill="#1a1a1a">4</text>
<line x1="101.68" y1="145.10" x2="101.68" y2="146.50" stroke="#222" stroke-width="0.85"/>
<line x1="108.25" y1="145.10" x2="108.25" y2="147.30" stroke="#222" stroke-width="0.85"/>
<text x="108.25" y="156.20" font-size="6.6" text-anchor="middle" fill="#1a1a1a">5</text>
<line x1="114.83" y1="145.10" x2="114.83" y2="146.50" stroke="#222" stroke-width="0.85"/>
<text x="80.10" y="162.20" font-size="6.75" text-anchor="middle" fill="#1a1a1a">Stimulus intensity (V)</text>
<text x="19.60" y="111.80" font-size="6.6" text-anchor="middle" fill="#1a1a1a" transform="rotate(-90 19.6 111.8)">EPSC amplitude (pA)</text>
<polyline points="42.50,141.00 49.08,141.00 55.65,139.50 62.23,136.00 68.80,131.50 75.38,127.00 81.95,124.00 88.53,120.00 95.10,116.00 101.68,112.60 108.25,107.00" fill="none" stroke="#5050e0" stroke-width="0.7" stroke-linejoin="round"/>
<polyline points="42.50,141.00 49.08,141.00 55.65,139.00 62.23,135.50 68.80,131.00 75.38,126.00 81.95,120.00 88.53,114.80 95.10,109.40 101.68,101.00 108.25,94.80" fill="none" stroke="#f07a40" stroke-width="0.7" stroke-linejoin="round"/>
<line x1="42.50" y1="140.40" x2="42.50" y2="141.60" stroke="#5050e0" stroke-width="0.6"/>
<line x1="41.70" y1="140.40" x2="43.30" y2="140.40" stroke="#5050e0" stroke-width="0.5"/>
<line x1="41.70" y1="141.60" x2="43.30" y2="141.60" stroke="#5050e0" stroke-width="0.5"/>
<circle cx="42.50" cy="141.00" r="1.8" fill="#fff" stroke="#5050e0" stroke-width="0.8"/>
<line x1="49.08" y1="140.40" x2="49.08" y2="141.60" stroke="#5050e0" stroke-width="0.6"/>
<line x1="48.28" y1="140.40" x2="49.88" y2="140.40" stroke="#5050e0" stroke-width="0.5"/>
<line x1="48.28" y1="141.60" x2="49.88" y2="141.60" stroke="#5050e0" stroke-width="0.5"/>
<circle cx="49.08" cy="141.00" r="1.8" fill="#fff" stroke="#5050e0" stroke-width="0.8"/>
<line x1="55.65" y1="138.50" x2="55.65" y2="140.50" stroke="#5050e0" stroke-width="0.6"/>
<line x1="54.85" y1="138.50" x2="56.45" y2="138.50" stroke="#5050e0" stroke-width="0.5"/>
<line x1="54.85" y1="140.50" x2="56.45" y2="140.50" stroke="#5050e0" stroke-width="0.5"/>
<circle cx="55.65" cy="139.50" r="1.8" fill="#fff" stroke="#5050e0" stroke-width="0.8"/>
<line x1="62.23" y1="134.50" x2="62.23" y2="137.50" stroke="#5050e0" stroke-width="0.6"/>
<line x1="61.43" y1="134.50" x2="63.02" y2="134.50" stroke="#5050e0" stroke-width="0.5"/>
<line x1="61.43" y1="137.50" x2="63.02" y2="137.50" stroke="#5050e0" stroke-width="0.5"/>
<circle cx="62.23" cy="136.00" r="1.8" fill="#fff" stroke="#5050e0" stroke-width="0.8"/>
<line x1="68.80" y1="129.50" x2="68.80" y2="133.50" stroke="#5050e0" stroke-width="0.6"/>
<line x1="68.00" y1="129.50" x2="69.60" y2="129.50" stroke="#5050e0" stroke-width="0.5"/>
<line x1="68.00" y1="133.50" x2="69.60" y2="133.50" stroke="#5050e0" stroke-width="0.5"/>
<circle cx="68.80" cy="131.50" r="1.8" fill="#fff" stroke="#5050e0" stroke-width="0.8"/>
<line x1="75.38" y1="124.50" x2="75.38" y2="129.50" stroke="#5050e0" stroke-width="0.6"/>
<line x1="74.58" y1="124.50" x2="76.17" y2="124.50" stroke="#5050e0" stroke-width="0.5"/>
<line x1="74.58" y1="129.50" x2="76.17" y2="129.50" stroke="#5050e0" stroke-width="0.5"/>
<circle cx="75.38" cy="127.00" r="1.8" fill="#fff" stroke="#5050e0" stroke-width="0.8"/>
<line x1="81.95" y1="121.00" x2="81.95" y2="127.00" stroke="#5050e0" stroke-width="0.6"/>
<line x1="81.15" y1="121.00" x2="82.75" y2="121.00" stroke="#5050e0" stroke-width="0.5"/>
<line x1="81.15" y1="127.00" x2="82.75" y2="127.00" stroke="#5050e0" stroke-width="0.5"/>
<circle cx="81.95" cy="124.00" r="1.8" fill="#fff" stroke="#5050e0" stroke-width="0.8"/>
<line x1="88.53" y1="116.50" x2="88.53" y2="123.50" stroke="#5050e0" stroke-width="0.6"/>
<line x1="87.73" y1="116.50" x2="89.33" y2="116.50" stroke="#5050e0" stroke-width="0.5"/>
<line x1="87.73" y1="123.50" x2="89.33" y2="123.50" stroke="#5050e0" stroke-width="0.5"/>
<circle cx="88.53" cy="120.00" r="1.8" fill="#fff" stroke="#5050e0" stroke-width="0.8"/>
<line x1="95.10" y1="112.00" x2="95.10" y2="120.00" stroke="#5050e0" stroke-width="0.6"/>
<line x1="94.30" y1="112.00" x2="95.90" y2="112.00" stroke="#5050e0" stroke-width="0.5"/>
<line x1="94.30" y1="120.00" x2="95.90" y2="120.00" stroke="#5050e0" stroke-width="0.5"/>
<circle cx="95.10" cy="116.00" r="1.8" fill="#fff" stroke="#5050e0" stroke-width="0.8"/>
<line x1="101.68" y1="108.10" x2="101.68" y2="117.10" stroke="#5050e0" stroke-width="0.6"/>
<line x1="100.88" y1="108.10" x2="102.48" y2="108.10" stroke="#5050e0" stroke-width="0.5"/>
<line x1="100.88" y1="117.10" x2="102.48" y2="117.10" stroke="#5050e0" stroke-width="0.5"/>
<circle cx="101.68" cy="112.60" r="1.8" fill="#fff" stroke="#5050e0" stroke-width="0.8"/>
<line x1="108.25" y1="101.50" x2="108.25" y2="112.50" stroke="#5050e0" stroke-width="0.6"/>
<line x1="107.45" y1="101.50" x2="109.05" y2="101.50" stroke="#5050e0" stroke-width="0.5"/>
<line x1="107.45" y1="112.50" x2="109.05" y2="112.50" stroke="#5050e0" stroke-width="0.5"/>
<circle cx="108.25" cy="107.00" r="1.8" fill="#fff" stroke="#5050e0" stroke-width="0.8"/>
<line x1="42.50" y1="140.40" x2="42.50" y2="141.60" stroke="#f08040" stroke-width="0.6"/>
<line x1="41.70" y1="140.40" x2="43.30" y2="140.40" stroke="#f08040" stroke-width="0.5"/>
<circle cx="42.50" cy="141.00" r="2.2" fill="#e8532b" stroke="none" stroke-width="0.6"/>
<line x1="49.08" y1="140.40" x2="49.08" y2="141.60" stroke="#f08040" stroke-width="0.6"/>
<line x1="48.28" y1="140.40" x2="49.88" y2="140.40" stroke="#f08040" stroke-width="0.5"/>
<circle cx="49.08" cy="141.00" r="2.2" fill="#e8532b" stroke="none" stroke-width="0.6"/>
<line x1="55.65" y1="138.00" x2="55.65" y2="140.00" stroke="#f08040" stroke-width="0.6"/>
<line x1="54.85" y1="138.00" x2="56.45" y2="138.00" stroke="#f08040" stroke-width="0.5"/>
<circle cx="55.65" cy="139.00" r="2.2" fill="#e8532b" stroke="none" stroke-width="0.6"/>
<line x1="62.23" y1="134.00" x2="62.23" y2="137.00" stroke="#f08040" stroke-width="0.6"/>
<line x1="61.43" y1="134.00" x2="63.02" y2="134.00" stroke="#f08040" stroke-width="0.5"/>
<circle cx="62.23" cy="135.50" r="2.2" fill="#e8532b" stroke="none" stroke-width="0.6"/>
<line x1="68.80" y1="129.00" x2="68.80" y2="133.00" stroke="#f08040" stroke-width="0.6"/>
<line x1="68.00" y1="129.00" x2="69.60" y2="129.00" stroke="#f08040" stroke-width="0.5"/>
<circle cx="68.80" cy="131.00" r="2.2" fill="#e8532b" stroke="none" stroke-width="0.6"/>
<line x1="75.38" y1="123.00" x2="75.38" y2="129.00" stroke="#f08040" stroke-width="0.6"/>
<line x1="74.58" y1="123.00" x2="76.17" y2="123.00" stroke="#f08040" stroke-width="0.5"/>
<circle cx="75.38" cy="126.00" r="2.2" fill="#e8532b" stroke="none" stroke-width="0.6"/>
<line x1="81.95" y1="116.00" x2="81.95" y2="124.00" stroke="#f08040" stroke-width="0.6"/>
<line x1="81.15" y1="116.00" x2="82.75" y2="116.00" stroke="#f08040" stroke-width="0.5"/>
<circle cx="81.95" cy="120.00" r="2.2" fill="#e8532b" stroke="none" stroke-width="0.6"/>
<line x1="88.53" y1="110.30" x2="88.53" y2="119.30" stroke="#f08040" stroke-width="0.6"/>
<line x1="87.73" y1="110.30" x2="89.33" y2="110.30" stroke="#f08040" stroke-width="0.5"/>
<circle cx="88.53" cy="114.80" r="2.2" fill="#e8532b" stroke="none" stroke-width="0.6"/>
<line x1="95.10" y1="104.40" x2="95.10" y2="114.40" stroke="#f08040" stroke-width="0.6"/>
<line x1="94.30" y1="104.40" x2="95.90" y2="104.40" stroke="#f08040" stroke-width="0.5"/>
<circle cx="95.10" cy="109.40" r="2.2" fill="#e8532b" stroke="none" stroke-width="0.6"/>
<line x1="101.68" y1="95.50" x2="101.68" y2="106.50" stroke="#f08040" stroke-width="0.6"/>
<line x1="100.88" y1="95.50" x2="102.48" y2="95.50" stroke="#f08040" stroke-width="0.5"/>
<circle cx="101.68" cy="101.00" r="2.2" fill="#e8532b" stroke="none" stroke-width="0.6"/>
<line x1="108.25" y1="88.80" x2="108.25" y2="100.80" stroke="#f08040" stroke-width="0.6"/>
<line x1="107.45" y1="88.80" x2="109.05" y2="88.80" stroke="#f08040" stroke-width="0.5"/>
<circle cx="108.25" cy="94.80" r="2.2" fill="#e8532b" stroke="none" stroke-width="0.6"/>
<line x1="187.00" y1="92.60" x2="187.00" y2="148.40" stroke="#222" stroke-width="0.85"/>
<line x1="184.60" y1="148.40" x2="187.00" y2="148.40" stroke="#222" stroke-width="0.85"/>
<text x="183.60" y="150.45" font-size="6.6" text-anchor="end" fill="#1a1a1a">0</text>
<line x1="184.60" y1="134.45" x2="187.00" y2="134.45" stroke="#222" stroke-width="0.85"/>
<text x="183.60" y="136.50" font-size="6.6" text-anchor="end" fill="#1a1a1a">200</text>
<line x1="184.60" y1="120.50" x2="187.00" y2="120.50" stroke="#222" stroke-width="0.85"/>
<text x="183.60" y="122.55" font-size="6.6" text-anchor="end" fill="#1a1a1a">400</text>
<line x1="184.60" y1="106.55" x2="187.00" y2="106.55" stroke="#222" stroke-width="0.85"/>
<text x="183.60" y="108.60" font-size="6.6" text-anchor="end" fill="#1a1a1a">600</text>
<line x1="184.60" y1="92.60" x2="187.00" y2="92.60" stroke="#222" stroke-width="0.85"/>
<text x="183.60" y="94.65" font-size="6.6" text-anchor="end" fill="#1a1a1a">800</text>
<line x1="185.56" y1="141.43" x2="187.00" y2="141.43" stroke="#222" stroke-width="0.85"/>
<line x1="185.56" y1="127.47" x2="187.00" y2="127.47" stroke="#222" stroke-width="0.85"/>
<line x1="185.56" y1="113.53" x2="187.00" y2="113.53" stroke="#222" stroke-width="0.85"/>
<line x1="185.56" y1="99.57" x2="187.00" y2="99.57" stroke="#222" stroke-width="0.85"/>
<line x1="190.00" y1="148.40" x2="218.00" y2="148.40" stroke="#222" stroke-width="0.85"/>
<line x1="197.60" y1="124.90" x2="197.60" y2="129.70" stroke="#484848" stroke-width="0.65"/>
<line x1="197.60" y1="136.20" x2="197.60" y2="140.20" stroke="#484848" stroke-width="0.65"/>
<rect x="192.60" y="129.70" width="10.00" height="6.50" fill="none" stroke="#484848" stroke-width="0.65"/>
<line x1="192.60" y1="132.00" x2="202.60" y2="132.00" stroke="#484848" stroke-width="0.65"/>
<circle cx="195.00" cy="125.50" r="1.1" fill="none" stroke="#9a9a9a" stroke-width="0.5"/>
<circle cx="198.00" cy="126.50" r="1.1" fill="none" stroke="#9a9a9a" stroke-width="0.5"/>
<circle cx="200.50" cy="127.50" r="1.1" fill="none" stroke="#9a9a9a" stroke-width="0.5"/>
<circle cx="194.00" cy="129.00" r="1.1" fill="none" stroke="#9a9a9a" stroke-width="0.5"/>
<circle cx="197.50" cy="131.00" r="1.1" fill="none" stroke="#9a9a9a" stroke-width="0.5"/>
<circle cx="200.00" cy="133.00" r="1.1" fill="none" stroke="#9a9a9a" stroke-width="0.5"/>
<circle cx="195.00" cy="134.50" r="1.1" fill="none" stroke="#9a9a9a" stroke-width="0.5"/>
<circle cx="199.00" cy="136.00" r="1.1" fill="none" stroke="#9a9a9a" stroke-width="0.5"/>
<circle cx="194.50" cy="138.50" r="1.1" fill="none" stroke="#9a9a9a" stroke-width="0.5"/>
<circle cx="197.60" cy="140.20" r="1.1" fill="none" stroke="#9a9a9a" stroke-width="0.5"/>
<circle cx="201.50" cy="129.50" r="1.1" fill="none" stroke="#9a9a9a" stroke-width="0.5"/>
<circle cx="193.50" cy="131.50" r="1.1" fill="none" stroke="#9a9a9a" stroke-width="0.5"/>
<line x1="211.00" y1="101.50" x2="211.00" y2="120.00" stroke="#484848" stroke-width="0.65"/>
<line x1="211.00" y1="132.00" x2="211.00" y2="142.00" stroke="#484848" stroke-width="0.65"/>
<rect x="206.00" y="120.00" width="10.00" height="12.00" fill="none" stroke="#484848" stroke-width="0.65"/>
<line x1="206.00" y1="123.00" x2="216.00" y2="123.00" stroke="#484848" stroke-width="0.65"/>
<circle cx="211.00" cy="101.50" r="1.1" fill="none" stroke="#9a9a9a" stroke-width="0.5"/>
<circle cx="211.00" cy="104.00" r="1.1" fill="none" stroke="#9a9a9a" stroke-width="0.5"/>
<circle cx="211.50" cy="107.00" r="1.1" fill="none" stroke="#9a9a9a" stroke-width="0.5"/>
<circle cx="210.50" cy="110.00" r="1.1" fill="none" stroke="#9a9a9a" stroke-width="0.5"/>
<circle cx="211.00" cy="113.00" r="1.1" fill="none" stroke="#9a9a9a" stroke-width="0.5"/>
<circle cx="211.50" cy="116.00" r="1.1" fill="none" stroke="#9a9a9a" stroke-width="0.5"/>
<circle cx="209.00" cy="119.00" r="1.1" fill="none" stroke="#9a9a9a" stroke-width="0.5"/>
<circle cx="213.50" cy="121.00" r="1.1" fill="none" stroke="#9a9a9a" stroke-width="0.5"/>
<circle cx="208.50" cy="124.00" r="1.1" fill="none" stroke="#9a9a9a" stroke-width="0.5"/>
<circle cx="212.00" cy="126.00" r="1.1" fill="none" stroke="#9a9a9a" stroke-width="0.5"/>
<circle cx="210.00" cy="128.50" r="1.1" fill="none" stroke="#9a9a9a" stroke-width="0.5"/>
<circle cx="214.00" cy="130.00" r="1.1" fill="none" stroke="#9a9a9a" stroke-width="0.5"/>
<circle cx="209.00" cy="132.50" r="1.1" fill="none" stroke="#9a9a9a" stroke-width="0.5"/>
<circle cx="211.00" cy="135.00" r="1.1" fill="none" stroke="#9a9a9a" stroke-width="0.5"/>
<circle cx="212.50" cy="137.50" r="1.1" fill="none" stroke="#9a9a9a" stroke-width="0.5"/>
<circle cx="211.00" cy="140.00" r="1.1" fill="none" stroke="#9a9a9a" stroke-width="0.5"/>
<circle cx="211.00" cy="142.00" r="1.1" fill="none" stroke="#9a9a9a" stroke-width="0.5"/>
<circle cx="207.50" cy="122.00" r="1.1" fill="none" stroke="#9a9a9a" stroke-width="0.5"/>
<circle cx="214.50" cy="118.50" r="1.1" fill="none" stroke="#9a9a9a" stroke-width="0.5"/>
<polyline points="197.50,101.50 197.50,93.00 211.30,93.00 211.30,95.20" fill="none" stroke="#222" stroke-width="0.7" stroke-linejoin="round"/>
<text x="202.80" y="94.60" font-size="6.4" text-anchor="middle" fill="#1a1a1a">**</text>
<text x="197.30" y="156.40" font-size="6.6" text-anchor="middle" fill="#1a1a1a">CT</text>
<text x="211.40" y="156.40" font-size="6.6" text-anchor="middle" fill="#1a1a1a">PT</text>
<text x="166.60" y="121.20" font-size="6.4" text-anchor="middle" fill="#1a1a1a" transform="rotate(-90 166.6 121.2)">R<tspan font-size="4.0" dy="1.2">in</tspan><tspan dy="-1.2"> (MΩ)</tspan></text>
<line x1="255.60" y1="92.40" x2="255.60" y2="148.80" stroke="#222" stroke-width="0.85"/>
<line x1="253.20" y1="148.80" x2="255.60" y2="148.80" stroke="#222" stroke-width="0.85"/>
<text x="252.20" y="150.85" font-size="6.6" text-anchor="end" fill="#1a1a1a">0</text>
<line x1="253.20" y1="134.70" x2="255.60" y2="134.70" stroke="#222" stroke-width="0.85"/>
<text x="252.20" y="136.75" font-size="6.6" text-anchor="end" fill="#1a1a1a">200</text>
<line x1="253.20" y1="120.60" x2="255.60" y2="120.60" stroke="#222" stroke-width="0.85"/>
<text x="252.20" y="122.65" font-size="6.6" text-anchor="end" fill="#1a1a1a">400</text>
<line x1="253.20" y1="106.50" x2="255.60" y2="106.50" stroke="#222" stroke-width="0.85"/>
<text x="252.20" y="108.55" font-size="6.6" text-anchor="end" fill="#1a1a1a">600</text>
<line x1="253.20" y1="92.40" x2="255.60" y2="92.40" stroke="#222" stroke-width="0.85"/>
<text x="252.20" y="94.45" font-size="6.6" text-anchor="end" fill="#1a1a1a">800</text>
<line x1="254.16" y1="141.75" x2="255.60" y2="141.75" stroke="#222" stroke-width="0.85"/>
<line x1="254.16" y1="127.65" x2="255.60" y2="127.65" stroke="#222" stroke-width="0.85"/>
<line x1="254.16" y1="113.55" x2="255.60" y2="113.55" stroke="#222" stroke-width="0.85"/>
<line x1="254.16" y1="99.45" x2="255.60" y2="99.45" stroke="#222" stroke-width="0.85"/>
<line x1="257.30" y1="149.40" x2="325.00" y2="149.40" stroke="#222" stroke-width="0.85"/>
<line x1="259.20" y1="149.40" x2="259.20" y2="151.40" stroke="#222" stroke-width="0.85"/>
<text x="259.20" y="159.60" font-size="6.6" text-anchor="middle" fill="#1a1a1a">0</text>
<line x1="268.57" y1="149.40" x2="268.57" y2="150.60" stroke="#222" stroke-width="0.85"/>
<line x1="277.95" y1="149.40" x2="277.95" y2="151.40" stroke="#222" stroke-width="0.85"/>
<text x="277.95" y="159.60" font-size="6.6" text-anchor="middle" fill="#1a1a1a">100</text>
<line x1="287.32" y1="149.40" x2="287.32" y2="150.60" stroke="#222" stroke-width="0.85"/>
<line x1="296.70" y1="149.40" x2="296.70" y2="151.40" stroke="#222" stroke-width="0.85"/>
<text x="296.70" y="159.60" font-size="6.6" text-anchor="middle" fill="#1a1a1a">200</text>
<line x1="306.07" y1="149.40" x2="306.07" y2="150.60" stroke="#222" stroke-width="0.85"/>
<line x1="315.45" y1="149.40" x2="315.45" y2="151.40" stroke="#222" stroke-width="0.85"/>
<text x="315.45" y="159.60" font-size="6.6" text-anchor="middle" fill="#1a1a1a">300</text>
<line x1="324.82" y1="149.40" x2="324.82" y2="150.60" stroke="#222" stroke-width="0.85"/>
<text x="293.40" y="167.80" font-size="6.6" text-anchor="middle" fill="#1a1a1a">Time (min)</text>
<text x="236.30" y="121.80" font-size="6.4" text-anchor="middle" fill="#1a1a1a" transform="rotate(-90 236.3 121.8)">R<tspan font-size="4.0" dy="1.2">in</tspan><tspan dy="-1.2"> (MΩ)</tspan></text>
<line x1="256.50" y1="122.60" x2="326.00" y2="105.50" stroke="#f9dcc4" stroke-width="0.8"/>
<line x1="256.50" y1="138.60" x2="326.00" y2="118.90" stroke="#d4e4cc" stroke-width="0.8"/>
<line x1="256.50" y1="130.30" x2="326.00" y2="115.80" stroke="#f2b894" stroke-width="0.9"/>
<line x1="256.50" y1="142.00" x2="326.00" y2="134.40" stroke="#cfe0e8" stroke-width="0.8"/>
<line x1="256.50" y1="135.90" x2="326.00" y2="128.20" stroke="#7a86dc" stroke-width="0.9"/>
<circle cx="275.60" cy="105.50" r="1.5" fill="#f0c0b0" stroke="none" stroke-width="0.6"/>
<circle cx="281.20" cy="108.20" r="1.5" fill="#f0c0b0" stroke="none" stroke-width="0.6"/>
<circle cx="292.20" cy="102.40" r="1.5" fill="#f0c0b0" stroke="none" stroke-width="0.6"/>
<circle cx="294.20" cy="111.70" r="1.5" fill="#f0c0b0" stroke="none" stroke-width="0.6"/>
<circle cx="272.10" cy="115.20" r="1.5" fill="#f0c0b0" stroke="none" stroke-width="0.6"/>
<circle cx="279.80" cy="118.90" r="1.5" fill="#f0c0b0" stroke="none" stroke-width="0.6"/>
<circle cx="286.60" cy="122.00" r="1.5" fill="#f0c0b0" stroke="none" stroke-width="0.6"/>
<circle cx="292.80" cy="120.00" r="1.5" fill="#f0c0b0" stroke="none" stroke-width="0.6"/>
<circle cx="295.30" cy="120.60" r="1.5" fill="#f0c0b0" stroke="none" stroke-width="0.6"/>
<circle cx="305.60" cy="117.90" r="1.5" fill="#f0c0b0" stroke="none" stroke-width="0.6"/>
<circle cx="315.90" cy="110.00" r="1.5" fill="#f0c0b0" stroke="none" stroke-width="0.6"/>
<circle cx="267.40" cy="123.50" r="1.5" fill="#f0c0b0" stroke="none" stroke-width="0.6"/>
<circle cx="277.70" cy="125.10" r="1.5" fill="#f0c0b0" stroke="none" stroke-width="0.6"/>
<circle cx="304.60" cy="122.00" r="1.5" fill="#f0c0b0" stroke="none" stroke-width="0.6"/>
<circle cx="294.20" cy="125.50" r="1.5" fill="#f0c0b0" stroke="none" stroke-width="0.6"/>
<circle cx="270.50" cy="132.40" r="1.5" fill="#f0c0b0" stroke="none" stroke-width="0.6"/>
<circle cx="281.80" cy="136.50" r="1.5" fill="#f0c0b0" stroke="none" stroke-width="0.6"/>
<circle cx="287.00" cy="136.50" r="1.5" fill="#f0c0b0" stroke="none" stroke-width="0.6"/>
<circle cx="294.20" cy="140.60" r="1.5" fill="#f0c0b0" stroke="none" stroke-width="0.6"/>
<circle cx="299.40" cy="128.20" r="1.5" fill="#f0c0b0" stroke="none" stroke-width="0.6"/>
<circle cx="276.70" cy="133.40" r="1.45" fill="none" stroke="#6470d4" stroke-width="0.6"/>
<circle cx="278.70" cy="132.40" r="1.45" fill="none" stroke="#6470d4" stroke-width="0.6"/>
<circle cx="281.80" cy="131.30" r="1.45" fill="none" stroke="#6470d4" stroke-width="0.6"/>
<circle cx="284.90" cy="130.30" r="1.45" fill="none" stroke="#6470d4" stroke-width="0.6"/>
<circle cx="287.00" cy="129.30" r="1.45" fill="none" stroke="#6470d4" stroke-width="0.6"/>
<circle cx="292.20" cy="126.80" r="1.45" fill="none" stroke="#6470d4" stroke-width="0.6"/>
<circle cx="297.30" cy="125.50" r="1.45" fill="none" stroke="#6470d4" stroke-width="0.6"/>
<circle cx="301.50" cy="125.50" r="1.45" fill="none" stroke="#6470d4" stroke-width="0.6"/>
<circle cx="308.70" cy="127.20" r="1.45" fill="none" stroke="#6470d4" stroke-width="0.6"/>
<circle cx="275.60" cy="138.60" r="1.45" fill="none" stroke="#6470d4" stroke-width="0.6"/>
<circle cx="297.30" cy="135.90" r="1.45" fill="none" stroke="#6470d4" stroke-width="0.6"/>
<circle cx="297.30" cy="140.00" r="1.45" fill="none" stroke="#6470d4" stroke-width="0.6"/>
<circle cx="305.00" cy="138.10" r="1.45" fill="none" stroke="#6470d4" stroke-width="0.6"/>
<circle cx="276.70" cy="139.60" r="1.45" fill="none" stroke="#6470d4" stroke-width="0.6"/>
<circle cx="286.00" cy="132.40" r="1.45" fill="none" stroke="#6470d4" stroke-width="0.6"/>
<circle cx="289.50" cy="128.50" r="1.45" fill="none" stroke="#6470d4" stroke-width="0.6"/>
<text x="18.40" y="189.20" font-size="6.5" text-anchor="start" fill="#1a1a1a">1.5 mM Ca<tspan font-size="4.0" dy="-2.5">2+</tspan></text>
<text x="70.40" y="189.20" font-size="6.5" text-anchor="start" fill="#1a1a1a">2 mM Ca<tspan font-size="4.0" dy="-2.5">2+</tspan></text>
<text x="116.80" y="189.20" font-size="6.5" text-anchor="start" fill="#1a1a1a">4 mM Ca<tspan font-size="4.0" dy="-2.5">2+</tspan></text>
<text x="156.80" y="189.20" font-size="6.5" text-anchor="start" fill="#1a1a1a">4 mM Ca<tspan font-size="4.0" dy="-2.5">2+</tspan><tspan dy="2.5"> + 4-AP</tspan></text>
<text x="8.20" y="203.60" font-size="6.4" text-anchor="middle" fill="#1a1a1a">CT</text>
<text x="8.20" y="252.20" font-size="6.4" text-anchor="middle" fill="#1a1a1a">PT</text>
<polygon points="18.00,197.31 18.60,197.82 19.20,197.64 19.80,197.39 20.40,198.03 21.00,197.76 21.60,197.71 22.20,197.36 22.80,198.29 23.40,198.27 24.00,198.03 24.60,197.54 25.20,197.54 25.80,198.26 26.40,197.49 27.00,197.90 27.60,197.47 28.20,197.52 28.80,198.38 29.40,197.51 30.00,198.02 30.60,198.34 31.20,198.03 31.80,198.41 32.40,197.74 33.00,197.94 33.60,198.37 34.20,198.25 34.80,197.96 35.40,197.69 36.00,198.18 36.60,198.35 37.20,198.10 37.80,198.38 38.40,198.11 39.00,197.57 39.60,198.25 40.20,198.13 40.80,197.65 41.40,198.22 42.00,198.31 42.60,198.17 43.20,197.80 43.80,197.70 44.40,197.73 45.00,198.34 45.62,198.10 46.24,198.26 46.87,197.81 47.49,197.99 48.11,197.59 48.73,197.76 49.36,197.74 49.98,198.14 50.60,197.76 51.22,198.22 51.84,198.18 52.47,197.41 53.09,198.08 53.71,198.24 54.33,197.52 54.96,198.04 55.58,197.91 56.20,197.63 56.20,203.94 55.58,203.03 54.96,203.67 54.33,203.07 53.71,203.82 53.09,203.42 52.47,203.15 51.84,203.47 51.22,203.74 50.60,203.24 49.98,203.49 49.36,203.90 48.73,203.95 48.11,203.87 47.49,203.63 46.87,203.87 46.24,203.33 45.62,203.57 45.00,203.51 44.40,203.34 43.80,203.25 43.20,203.26 42.60,204.19 42.00,203.60 41.40,203.54 40.80,203.88 40.20,203.96 39.60,204.13 39.00,204.15 38.40,203.30 37.80,203.50 37.20,203.64 36.60,203.56 36.00,203.82 35.40,203.51 34.80,204.17 34.20,203.60 33.60,204.17 33.00,204.21 32.40,203.95 31.80,203.56 31.20,203.35 30.60,204.29 30.00,204.22 29.40,203.77 28.80,203.33 28.20,204.02 27.60,203.53 27.00,203.66 26.40,204.19 25.80,204.11 25.20,204.03 24.60,203.24 24.00,203.80 23.40,203.74 22.80,203.84 22.20,203.12 21.60,204.00 21.00,203.24 20.40,203.06 19.80,203.70 19.20,203.77 18.60,203.73 18.00,203.09" fill="#c8c8c8" stroke="none"/>
<polygon points="18.00,199.00 18.60,199.02 19.20,199.03 19.80,199.05 20.40,199.06 21.00,199.08 21.60,199.09 22.20,199.11 22.80,199.12 23.40,199.14 24.00,199.16 24.60,199.17 25.20,199.19 25.80,199.20 26.40,199.22 27.00,199.23 27.60,199.25 28.20,199.26 28.80,199.28 29.40,199.29 30.00,199.31 30.60,199.30 31.20,199.30 31.80,199.29 32.40,199.29 33.00,199.28 33.60,199.28 34.20,199.28 34.80,199.27 35.40,199.27 36.00,199.27 36.60,199.26 37.20,199.26 37.80,199.25 38.40,199.25 39.00,199.25 39.60,199.24 40.20,199.24 40.80,199.23 41.40,199.23 42.00,199.23 42.60,199.22 43.20,199.22 43.80,199.21 44.40,199.21 45.00,199.21 45.62,199.19 46.24,199.18 46.87,199.17 47.49,199.16 48.11,199.15 48.73,199.14 49.36,199.13 49.98,199.12 50.60,199.10 51.22,199.09 51.84,199.08 52.47,199.07 53.09,199.06 53.71,199.05 54.33,199.04 54.96,199.03 55.58,199.02 56.20,199.00 56.20,202.19 55.58,202.21 54.96,202.22 54.33,202.23 53.71,202.24 53.09,202.25 52.47,202.26 51.84,202.27 51.22,202.28 50.60,202.29 49.98,202.31 49.36,202.32 48.73,202.33 48.11,202.34 47.49,202.35 46.87,202.36 46.24,202.37 45.62,202.38 45.00,202.40 44.40,202.40 43.80,202.40 43.20,202.41 42.60,202.41 42.00,202.42 41.40,202.42 40.80,202.42 40.20,202.43 39.60,202.43 39.00,202.44 38.40,202.44 37.80,202.44 37.20,202.45 36.60,202.45 36.00,202.46 35.40,202.46 34.80,202.46 34.20,202.47 33.60,202.47 33.00,202.47 32.40,202.48 31.80,202.48 31.20,202.49 30.60,202.49 30.00,202.50 29.40,202.48 28.80,202.47 28.20,202.45 27.60,202.44 27.00,202.42 26.40,202.41 25.80,202.39 25.20,202.38 24.60,202.36 24.00,202.34 23.40,202.33 22.80,202.31 22.20,202.30 21.60,202.28 21.00,202.27 20.40,202.25 19.80,202.24 19.20,202.22 18.60,202.21 18.00,202.19" fill="#9a9a9a" stroke="#9a9a9a" stroke-width="0.3" stroke-linejoin="round"/>
<polyline points="18.00,200.60 30.00,200.90 45.00,200.80 56.20,200.60" fill="none" stroke="#2a2a2a" stroke-width="1.0" stroke-linejoin="round"/>
<polygon points="67.20,197.25 67.70,196.64 68.20,197.54 68.00,197.96 68.28,198.12 68.55,198.57 68.83,198.46 69.10,199.37 69.38,199.56 69.65,200.11 69.92,199.58 70.20,200.13 71.20,199.78 72.20,199.53 73.20,199.50 74.20,199.27 75.20,198.88 76.20,198.63 77.20,198.48 78.20,198.42 79.20,198.22 80.20,197.89 81.20,198.68 82.20,197.78 83.20,197.81 84.20,198.01 85.20,198.04 86.20,198.15 87.20,197.79 88.20,198.17 89.20,198.01 90.20,198.05 91.20,197.82 92.20,198.03 93.20,197.29 94.20,198.06 95.20,197.97 96.20,197.88 97.20,198.22 98.20,198.12 99.20,197.34 100.20,198.00 101.20,197.70 102.20,198.15 103.20,197.31 104.20,197.42 104.80,197.71 104.80,203.58 104.20,203.02 103.20,203.70 102.20,203.23 101.20,203.45 100.20,203.04 99.20,203.14 98.20,203.39 97.20,203.25 96.20,203.07 95.20,203.74 94.20,203.19 93.20,203.23 92.20,203.18 91.20,203.99 90.20,203.50 89.20,203.75 88.20,203.51 87.20,203.79 86.20,203.31 85.20,204.10 84.20,204.19 83.20,203.50 82.20,204.01 81.20,204.00 80.20,203.97 79.20,204.23 78.20,204.43 77.20,204.99 76.20,205.08 75.20,205.07 74.20,205.17 73.20,204.87 72.20,205.05 71.20,205.20 70.20,206.16 69.92,205.28 69.65,205.76 69.38,205.61 69.10,204.69 68.83,204.95 68.55,204.72 68.28,203.47 68.00,203.07 68.20,203.09 67.70,202.37 67.20,202.98" fill="#c8c8c8" stroke="none"/>
<polygon points="67.20,198.10 67.70,198.10 68.20,198.91 68.00,198.91 68.28,199.34 68.55,199.75 68.83,200.12 69.10,200.46 69.38,200.75 69.65,201.00 69.92,201.20 70.20,201.31 71.20,201.05 72.20,200.83 73.20,200.62 74.20,200.44 75.20,200.28 76.20,200.14 77.20,200.01 78.20,199.89 79.20,199.79 80.20,199.70 81.20,199.61 82.20,199.54 83.20,199.47 84.20,199.41 85.20,199.36 86.20,199.31 87.20,199.27 88.20,199.23 89.20,199.20 90.20,199.17 91.20,199.14 92.20,199.11 93.20,199.09 94.20,199.07 95.20,199.05 96.20,199.04 97.20,199.02 98.20,199.01 99.20,199.00 100.20,198.99 101.20,198.98 102.20,198.97 103.20,198.97 104.20,198.96 104.80,198.96 104.80,202.15 104.20,202.15 103.20,202.16 102.20,202.16 101.20,202.17 100.20,202.18 99.20,202.19 98.20,202.20 97.20,202.21 96.20,202.23 95.20,202.24 94.20,202.26 93.20,202.28 92.20,202.30 91.20,202.33 90.20,202.36 89.20,202.39 88.20,202.42 87.20,202.46 86.20,202.50 85.20,202.55 84.20,202.60 83.20,202.66 82.20,202.73 81.20,202.80 80.20,202.89 79.20,202.98 78.20,203.08 77.20,203.20 76.20,203.33 75.20,203.47 74.20,203.63 73.20,203.81 72.20,204.02 71.20,204.24 70.20,204.50 69.92,204.39 69.65,204.19 69.38,203.94 69.10,203.65 68.83,203.31 68.55,202.94 68.28,202.53 68.00,202.09 68.20,202.09 67.70,201.29 67.20,201.29" fill="#9a9a9a" stroke="#9a9a9a" stroke-width="0.3" stroke-linejoin="round"/>
<polyline points="67.20,199.70 67.70,199.70 68.20,200.50 68.00,200.50 68.28,200.94 68.55,201.34 68.83,201.71 69.10,202.05 69.38,202.35 69.65,202.60 69.92,202.79 70.20,202.90 71.20,202.65 72.20,202.42 73.20,202.22 74.20,202.04 75.20,201.88 76.20,201.73 77.20,201.60 78.20,201.49 79.20,201.38 80.20,201.29 81.20,201.21 82.20,201.13 83.20,201.07 84.20,201.01 85.20,200.95 86.20,200.91 87.20,200.86 88.20,200.82 89.20,200.79 90.20,200.76 91.20,200.73 92.20,200.71 93.20,200.69 94.20,200.67 95.20,200.65 96.20,200.63 97.20,200.62 98.20,200.61 99.20,200.60 100.20,200.59 101.20,200.58 102.20,200.57 103.20,200.56 104.20,200.55 104.80,200.55" fill="none" stroke="#2a2a2a" stroke-width="1.0" stroke-linejoin="round"/>
<polygon points="115.60,197.13 116.10,197.26 116.35,197.85 116.60,198.39 116.40,198.28 116.66,198.51 116.93,199.16 117.19,200.54 117.45,201.21 117.71,201.12 117.97,201.73 118.24,202.80 118.50,202.85 119.03,204.55 119.55,204.87 120.07,205.43 120.60,206.35 121.60,205.84 122.60,205.75 123.60,205.49 124.60,204.45 125.60,204.23 126.60,204.19 127.60,204.14 128.60,203.78 129.60,203.54 130.60,203.84 131.60,202.97 132.60,203.13 133.60,202.96 134.60,202.16 135.60,202.29 136.60,202.30 137.60,201.64 138.60,202.36 139.60,201.64 140.60,201.42 141.60,201.47 142.60,201.10 143.60,201.40 144.60,201.01 145.60,200.80 146.60,201.22 147.60,200.69 148.60,200.57 149.60,200.78 150.60,200.17 151.60,200.77 152.60,199.85 153.00,200.44 153.00,205.76 152.60,205.76 151.60,206.33 150.60,206.17 149.60,206.56 148.60,206.45 147.60,206.40 146.60,206.24 145.60,206.23 144.60,206.46 143.60,206.62 142.60,207.08 141.60,206.89 140.60,207.64 139.60,208.00 138.60,207.34 137.60,208.26 136.60,207.63 135.60,208.21 134.60,208.75 133.60,208.55 132.60,208.42 131.60,209.30 130.60,208.85 129.60,209.33 128.60,209.30 127.60,210.05 126.60,209.76 125.60,210.69 124.60,210.47 123.60,210.92 122.60,211.49 121.60,211.85 120.60,211.78 120.07,212.03 119.55,211.09 119.03,209.87 118.50,208.68 118.24,208.27 117.97,208.28 117.71,207.00 117.45,207.19 117.19,205.71 116.93,205.59 116.66,204.44 116.40,203.58 116.60,203.47 116.35,203.04 116.10,202.51 115.60,202.48" fill="#c8c8c8" stroke="none"/>
<polygon points="115.60,198.21 116.10,198.21 116.35,198.81 116.60,199.41 116.40,199.41 116.66,200.13 116.93,200.86 117.19,201.53 117.45,202.21 117.71,202.83 117.97,203.45 118.24,204.01 118.50,204.58 119.03,205.57 119.55,206.41 120.07,207.05 120.60,207.41 121.60,207.08 122.60,206.77 123.60,206.46 124.60,206.18 125.60,205.90 126.60,205.64 127.60,205.38 128.60,205.14 129.60,204.90 130.60,204.68 131.60,204.46 132.60,204.26 133.60,204.06 134.60,203.87 135.60,203.69 136.60,203.51 137.60,203.34 138.60,203.18 139.60,203.03 140.60,202.88 141.60,202.74 142.60,202.60 143.60,202.47 144.60,202.35 145.60,202.23 146.60,202.11 147.60,202.00 148.60,201.90 149.60,201.79 150.60,201.70 151.60,201.60 152.60,201.51 153.00,201.48 153.00,204.67 152.60,204.70 151.60,204.79 150.60,204.89 149.60,204.98 148.60,205.09 147.60,205.19 146.60,205.30 145.60,205.42 144.60,205.54 143.60,205.66 142.60,205.79 141.60,205.93 140.60,206.07 139.60,206.22 138.60,206.37 137.60,206.53 136.60,206.70 135.60,206.88 134.60,207.06 133.60,207.25 132.60,207.45 131.60,207.65 130.60,207.87 129.60,208.09 128.60,208.33 127.60,208.57 126.60,208.83 125.60,209.09 124.60,209.37 123.60,209.65 122.60,209.96 121.60,210.27 120.60,210.59 120.07,210.24 119.55,209.59 119.03,208.76 118.50,207.77 118.24,207.20 117.97,206.64 117.71,206.02 117.45,205.40 117.19,204.72 116.93,204.05 116.66,203.32 116.40,202.59 116.60,202.59 116.35,202.00 116.10,201.40 115.60,201.40" fill="#9a9a9a" stroke="#9a9a9a" stroke-width="0.3" stroke-linejoin="round"/>
<polyline points="115.60,199.80 116.10,199.80 116.60,201.00 116.40,201.00 116.93,202.45 117.45,203.80 117.97,205.05 118.50,206.17 119.03,207.16 119.55,208.00 120.07,208.65 120.60,209.00 121.60,208.67 122.60,208.36 123.60,208.06 124.60,207.77 125.60,207.50 126.60,207.23 127.60,206.98 128.60,206.73 129.60,206.50 130.60,206.27 131.60,206.06 132.60,205.85 133.60,205.65 134.60,205.46 135.60,205.28 136.60,205.11 137.60,204.94 138.60,204.78 139.60,204.62 140.60,204.48 141.60,204.33 142.60,204.20 143.60,204.07 144.60,203.94 145.60,203.82 146.60,203.71 147.60,203.60 148.60,203.49 149.60,203.39 150.60,203.29 151.60,203.20 152.60,203.11 153.00,203.07" fill="none" stroke="#2a2a2a" stroke-width="1.0" stroke-linejoin="round"/>
<polygon points="162.80,194.65 163.30,194.43 163.80,195.46 163.40,195.11 163.47,195.90 163.55,196.57 163.62,197.01 163.70,197.68 163.78,198.23 163.85,199.43 163.93,199.42 164.00,200.93 164.07,201.21 164.15,201.87 164.22,202.72 164.30,203.45 164.38,203.99 164.45,204.39 164.53,204.85 164.60,205.19 164.68,205.86 164.75,206.24 164.83,207.19 164.90,207.67 164.98,208.01 165.05,208.76 165.13,210.10 165.22,210.25 165.30,211.02 165.38,211.01 165.46,211.87 165.55,212.56 165.63,212.94 165.71,214.22 165.79,214.23 165.88,215.50 165.97,215.79 166.06,216.16 166.15,217.09 166.24,217.20 166.33,218.36 166.42,218.31 166.52,219.07 166.61,219.80 166.70,220.42 166.80,220.93 166.91,221.92 167.01,222.20 167.11,222.94 167.22,223.24 167.32,224.27 167.42,225.30 167.53,225.70 167.66,226.08 167.80,227.17 167.94,227.20 168.07,227.72 168.21,229.13 168.35,229.41 168.51,229.82 168.68,230.39 168.84,231.14 169.01,232.01 169.18,232.86 169.45,232.97 169.72,234.18 170.00,234.72 170.50,234.13 171.00,232.84 171.50,232.82 172.00,232.01 172.50,231.16 173.00,231.40 173.50,230.14 174.00,230.32 174.50,229.50 175.00,229.09 175.50,227.80 176.00,227.99 176.50,227.39 177.00,226.59 177.50,225.82 178.00,225.89 178.50,225.53 179.00,225.03 179.50,224.84 180.00,224.36 180.50,223.56 181.00,223.15 181.50,222.39 182.00,222.69 182.50,221.74 183.00,221.88 183.50,221.11 184.00,220.10 184.50,219.97 185.00,220.28 185.50,219.06 186.00,218.60 186.50,218.94 187.00,218.52 187.50,218.39 188.00,217.40 188.50,216.90 189.00,216.58 190.00,216.16 191.00,215.60 192.00,214.80 193.00,214.88 194.00,213.54 195.00,213.11 196.00,212.72 197.00,212.56 198.00,211.55 199.00,211.58 199.80,210.88 199.80,218.61 199.00,219.08 198.00,218.94 197.00,219.54 196.00,220.29 195.00,220.84 194.00,221.16 193.00,221.65 192.00,222.96 191.00,223.11 190.00,223.46 189.00,224.52 188.50,224.65 188.00,224.79 187.50,225.71 187.00,225.58 186.50,226.57 186.00,226.57 185.50,227.01 185.00,227.77 184.50,227.57 184.00,228.52 183.50,228.77 183.00,228.52 182.50,229.12 182.00,229.33 181.50,230.71 181.00,230.30 180.50,231.16 180.00,231.12 179.50,231.54 179.00,231.99 178.50,233.37 178.00,233.35 177.50,233.91 177.00,234.01 176.50,234.52 176.00,235.48 175.50,235.72 175.00,236.77 174.50,237.05 174.00,237.48 173.50,238.25 173.00,238.77 172.50,238.74 172.00,239.94 171.50,239.87 171.00,240.79 170.50,241.86 170.00,242.12 169.72,241.09 169.45,241.05 169.18,240.51 169.01,239.52 168.84,239.36 168.68,237.93 168.51,237.99 168.35,237.29 168.21,236.03 168.07,235.84 167.94,235.26 167.80,234.86 167.66,233.84 167.53,232.95 167.42,232.14 167.32,231.89 167.22,230.78 167.11,230.73 167.01,229.92 166.91,229.17 166.80,228.59 166.70,228.10 166.61,227.87 166.52,226.58 166.42,226.20 166.33,225.29 166.24,225.20 166.15,224.19 166.06,223.57 165.97,223.75 165.88,222.72 165.79,221.88 165.71,221.59 165.63,221.15 165.55,220.12 165.46,220.15 165.38,218.86 165.30,218.52 165.22,217.51 165.13,216.90 165.05,216.37 164.98,216.04 164.90,215.11 164.83,214.87 164.75,214.58 164.68,213.54 164.60,213.44 164.53,212.52 164.45,212.32 164.38,211.09 164.30,210.19 164.22,210.31 164.15,209.34 164.07,208.47 164.00,208.15 163.93,207.68 163.85,207.06 163.78,206.52 163.70,205.81 163.62,205.31 163.55,204.54 163.47,203.44 163.40,202.92 163.80,203.38 163.30,202.37 162.80,202.99" fill="#c8c8c8" stroke="none"/>
<polygon points="162.80,196.61 163.30,196.61 163.80,197.11 163.40,197.11 163.47,197.75 163.55,198.40 163.62,199.04 163.70,199.68 163.78,200.33 163.85,200.97 163.93,201.61 164.00,202.26 164.07,202.90 164.15,203.55 164.22,204.19 164.30,204.79 164.38,205.39 164.45,205.99 164.53,206.59 164.60,207.18 164.68,207.78 164.75,208.38 164.83,208.98 164.90,209.58 164.98,210.18 165.05,210.78 165.13,211.38 165.22,211.99 165.30,212.60 165.38,213.20 165.46,213.81 165.55,214.42 165.63,215.02 165.71,215.63 165.79,216.23 165.88,216.84 165.97,217.45 166.06,218.06 166.15,218.67 166.24,219.28 166.33,219.89 166.42,220.49 166.52,221.10 166.61,221.71 166.70,222.32 166.80,222.93 166.91,223.53 167.01,224.13 167.11,224.74 167.22,225.34 167.32,225.95 167.42,226.55 167.53,227.15 167.66,227.83 167.80,228.51 167.94,229.19 168.07,229.87 168.21,230.55 168.35,231.23 168.51,231.87 168.68,232.50 168.84,233.13 169.01,233.76 169.18,234.39 169.45,234.96 169.72,235.54 170.00,236.11 170.50,235.51 171.00,234.91 171.50,234.33 172.00,233.75 172.50,233.18 173.00,232.62 173.50,232.07 174.00,231.53 174.50,231.00 175.00,230.47 175.50,229.96 176.00,229.44 176.50,228.94 177.00,228.45 177.50,227.97 178.00,227.48 178.50,227.02 179.00,226.55 179.50,226.10 180.00,225.64 180.50,225.20 181.00,224.77 181.50,224.34 182.00,223.91 182.50,223.50 183.00,223.09 183.50,222.69 184.00,222.29 184.50,221.90 185.00,221.52 185.50,221.14 186.00,220.76 186.50,220.40 187.00,220.04 187.50,219.68 188.00,219.33 188.50,218.99 189.00,218.65 190.00,217.99 191.00,217.34 192.00,216.72 193.00,216.12 194.00,215.53 195.00,214.97 196.00,214.42 197.00,213.88 198.00,213.37 199.00,212.87 199.80,212.48 199.80,216.66 199.00,217.05 198.00,217.55 197.00,218.06 196.00,218.60 195.00,219.15 194.00,219.71 193.00,220.30 192.00,220.90 191.00,221.52 190.00,222.17 189.00,222.83 188.50,223.17 188.00,223.51 187.50,223.86 187.00,224.22 186.50,224.58 186.00,224.94 185.50,225.32 185.00,225.70 184.50,226.08 184.00,226.47 183.50,226.87 183.00,227.27 182.50,227.68 182.00,228.09 181.50,228.52 181.00,228.95 180.50,229.38 180.00,229.82 179.50,230.28 179.00,230.73 178.50,231.20 178.00,231.66 177.50,232.15 177.00,232.63 176.50,233.12 176.00,233.62 175.50,234.14 175.00,234.65 174.50,235.18 174.00,235.71 173.50,236.25 173.00,236.80 172.50,237.36 172.00,237.93 171.50,238.51 171.00,239.09 170.50,239.69 170.00,240.29 169.72,239.72 169.45,239.14 169.18,238.57 169.01,237.94 168.84,237.31 168.68,236.68 168.51,236.05 168.35,235.41 168.21,234.73 168.07,234.05 167.94,233.37 167.80,232.69 167.66,232.01 167.53,231.33 167.42,230.73 167.32,230.13 167.22,229.52 167.11,228.92 167.01,228.31 166.91,227.71 166.80,227.11 166.70,226.50 166.61,225.89 166.52,225.28 166.42,224.67 166.33,224.07 166.24,223.46 166.15,222.85 166.06,222.24 165.97,221.63 165.88,221.02 165.79,220.41 165.71,219.81 165.63,219.20 165.55,218.60 165.46,217.99 165.38,217.38 165.30,216.78 165.22,216.17 165.13,215.56 165.05,214.96 164.98,214.36 164.90,213.76 164.83,213.16 164.75,212.56 164.68,211.96 164.60,211.36 164.53,210.77 164.45,210.17 164.38,209.57 164.30,208.97 164.22,208.37 164.15,207.73 164.07,207.08 164.00,206.44 163.93,205.79 163.85,205.15 163.78,204.51 163.70,203.86 163.62,203.22 163.55,202.58 163.47,201.93 163.40,201.29 163.80,201.29 163.30,200.79 162.80,200.79" fill="#9a9a9a" stroke="#9a9a9a" stroke-width="0.3" stroke-linejoin="round"/>
<polyline points="162.80,198.70 163.30,198.70 163.80,199.20 163.40,199.20 164.22,206.28 165.05,212.87 165.88,218.93 166.70,224.41 167.53,229.24 168.35,233.32 169.18,236.48 170.00,238.20 171.00,237.00 172.00,235.84 173.00,234.71 174.00,233.62 175.00,232.56 176.00,231.53 177.00,230.54 178.00,229.57 179.00,228.64 180.00,227.73 181.00,226.86 182.00,226.00 183.00,225.18 184.00,224.38 185.00,223.61 186.00,222.85 187.00,222.13 188.00,221.42 189.00,220.74 190.00,220.08 191.00,219.43 192.00,218.81 193.00,218.21 194.00,217.62 195.00,217.06 196.00,216.51 197.00,215.97 198.00,215.46 199.00,214.96 199.80,214.57" fill="none" stroke="#2a2a2a" stroke-width="1.0" stroke-linejoin="round"/>
<polygon points="18.60,244.69 19.07,244.96 19.53,245.80 20.00,245.79 20.50,246.57 21.00,247.13 21.50,247.00 22.00,247.54 22.50,247.91 23.00,248.53 23.62,248.84 24.25,248.46 24.88,248.44 25.50,247.71 26.12,248.32 26.75,247.36 27.38,247.81 28.00,247.49 28.60,247.14 29.20,247.07 29.80,247.20 30.40,247.12 31.00,247.06 31.60,247.02 32.20,247.48 32.80,247.26 33.40,247.51 34.00,246.93 34.60,247.18 35.20,247.20 35.80,247.14 36.40,246.44 37.00,247.22 37.60,246.42 38.20,246.39 38.80,247.06 39.40,246.40 40.00,247.00 40.61,246.55 41.22,247.06 41.82,246.86 42.43,246.68 43.04,246.79 43.65,246.33 44.25,246.50 44.86,247.10 45.47,246.57 46.08,247.03 46.68,246.94 47.29,246.72 47.90,246.78 48.51,246.54 49.12,246.10 49.72,246.30 50.33,246.52 50.94,246.22 51.55,246.89 52.15,246.33 52.76,246.07 53.37,246.09 53.98,246.51 54.58,246.42 55.19,246.62 55.80,246.56 55.80,252.79 55.19,251.94 54.58,252.67 53.98,252.05 53.37,252.39 52.76,252.39 52.15,251.89 51.55,252.34 50.94,251.88 50.33,252.81 49.72,252.82 49.12,252.46 48.51,252.66 47.90,252.63 47.29,252.11 46.68,251.98 46.08,252.30 45.47,252.35 44.86,252.43 44.25,252.62 43.65,252.72 43.04,252.52 42.43,251.97 41.82,252.31 41.22,252.61 40.61,252.88 40.00,252.02 39.40,252.75 38.80,252.54 38.20,252.43 37.60,252.99 37.00,252.44 36.40,252.41 35.80,252.76 35.20,252.89 34.60,252.44 34.00,252.82 33.40,252.60 32.80,253.13 32.20,252.45 31.60,253.27 31.00,252.94 30.40,252.68 29.80,252.83 29.20,253.26 28.60,253.09 28.00,252.72 27.38,252.92 26.75,253.02 26.12,253.66 25.50,253.99 24.88,253.58 24.25,254.49 23.62,254.38 23.00,254.84 22.50,253.81 22.00,253.32 21.50,253.27 21.00,253.17 20.50,252.27 20.00,251.80 19.53,251.43 19.07,250.35 18.60,249.98" fill="#c8c8c8" stroke="none"/>
<polygon points="18.60,245.81 19.07,246.34 19.53,246.87 20.00,247.41 20.50,247.84 21.00,248.27 21.50,248.71 22.00,249.14 22.50,249.57 23.00,250.00 23.62,249.83 24.25,249.66 24.88,249.48 25.50,249.30 26.12,249.13 26.75,248.95 27.38,248.78 28.00,248.60 28.60,248.57 29.20,248.54 29.80,248.51 30.40,248.48 31.00,248.45 31.60,248.42 32.20,248.39 32.80,248.36 33.40,248.33 34.00,248.30 34.60,248.28 35.20,248.25 35.80,248.22 36.40,248.19 37.00,248.16 37.60,248.12 38.20,248.09 38.80,248.06 39.40,248.03 40.00,248.00 40.61,248.00 41.22,247.99 41.82,247.98 42.43,247.97 43.04,247.97 43.65,247.96 44.25,247.95 44.86,247.94 45.47,247.94 46.08,247.93 46.68,247.92 47.29,247.91 47.90,247.91 48.51,247.90 49.12,247.89 49.72,247.88 50.33,247.87 50.94,247.87 51.55,247.86 52.15,247.85 52.76,247.84 53.37,247.84 53.98,247.83 54.58,247.82 55.19,247.81 55.80,247.81 55.80,251.00 55.19,251.00 54.58,251.01 53.98,251.02 53.37,251.03 52.76,251.03 52.15,251.04 51.55,251.05 50.94,251.06 50.33,251.06 49.72,251.07 49.12,251.08 48.51,251.09 47.90,251.09 47.29,251.10 46.68,251.11 46.08,251.12 45.47,251.13 44.86,251.13 44.25,251.14 43.65,251.15 43.04,251.16 42.43,251.16 41.82,251.17 41.22,251.18 40.61,251.19 40.00,251.19 39.40,251.22 38.80,251.25 38.20,251.28 37.60,251.31 37.00,251.34 36.40,251.38 35.80,251.41 35.20,251.44 34.60,251.47 34.00,251.49 33.40,251.52 32.80,251.55 32.20,251.58 31.60,251.61 31.00,251.64 30.40,251.67 29.80,251.70 29.20,251.73 28.60,251.76 28.00,251.79 27.38,251.97 26.75,252.14 26.12,252.32 25.50,252.49 24.88,252.67 24.25,252.84 23.62,253.02 23.00,253.19 22.50,252.76 22.00,252.33 21.50,251.90 21.00,251.46 20.50,251.03 20.00,250.59 19.53,250.06 19.07,249.53 18.60,249.00" fill="#9a9a9a" stroke="#9a9a9a" stroke-width="0.3" stroke-linejoin="round"/>
<polyline points="18.60,247.40 20.00,249.00 23.00,251.60 28.00,250.20 40.00,249.60 55.80,249.40" fill="none" stroke="#2a2a2a" stroke-width="1.0" stroke-linejoin="round"/>
<polygon points="67.70,245.24 68.20,245.16 68.45,245.87 68.70,246.14 68.60,246.56 68.73,246.76 68.87,247.68 69.00,247.89 69.13,249.23 69.27,249.65 69.40,249.70 69.60,250.68 69.80,251.53 70.00,252.73 70.20,253.06 70.40,254.16 70.60,254.63 71.00,255.52 71.40,256.01 71.80,257.22 72.30,256.74 72.80,256.22 73.30,255.04 73.80,254.76 74.30,255.04 74.80,254.49 75.30,254.18 75.80,253.55 76.80,252.52 77.80,252.35 78.80,251.98 79.80,251.49 80.80,250.42 81.80,250.37 82.80,250.62 83.80,250.06 84.80,249.10 85.80,249.28 86.80,248.88 87.80,248.32 88.80,248.88 89.80,248.46 90.80,248.50 91.80,248.36 92.80,248.05 93.80,247.78 94.80,247.86 95.80,247.82 96.80,247.66 97.80,247.34 98.80,247.33 99.80,247.14 100.80,247.29 101.80,247.25 102.80,247.07 103.80,246.45 104.60,246.70 104.60,252.34 103.80,253.01 102.80,252.63 101.80,253.19 100.80,252.49 99.80,252.45 98.80,253.30 97.80,253.13 96.80,253.69 95.80,253.39 94.80,253.87 93.80,253.61 92.80,254.02 91.80,254.28 90.80,254.21 89.80,254.22 88.80,254.70 87.80,254.81 86.80,254.88 85.80,254.85 84.80,255.19 83.80,255.16 82.80,256.02 81.80,256.24 80.80,256.73 79.80,257.17 78.80,257.89 77.80,257.75 76.80,258.28 75.80,259.01 75.30,259.97 74.80,260.54 74.30,260.62 73.80,260.56 73.30,261.42 72.80,261.76 72.30,262.13 71.80,262.73 71.40,261.97 71.00,261.71 70.60,260.49 70.40,259.96 70.20,258.77 70.00,258.59 69.80,257.04 69.60,256.49 69.40,255.84 69.27,255.44 69.13,254.75 69.00,254.16 68.87,253.77 68.73,252.59 68.60,252.04 68.70,252.48 68.45,250.95 68.20,250.11 67.70,250.88" fill="#c8c8c8" stroke="none"/>
<polygon points="67.70,246.11 68.20,246.11 68.45,246.91 68.70,247.71 68.60,247.71 68.73,248.34 68.87,248.98 69.00,249.61 69.13,250.20 69.27,250.79 69.40,251.39 69.60,252.20 69.80,253.02 70.00,253.75 70.20,254.49 70.40,255.14 70.60,255.79 71.00,256.89 71.40,257.74 71.80,258.20 72.30,257.73 72.80,257.26 73.30,256.83 73.80,256.40 74.30,256.01 74.80,255.62 75.30,255.26 75.80,254.90 76.80,254.26 77.80,253.67 78.80,253.13 79.80,252.64 80.80,252.20 81.80,251.79 82.80,251.42 83.80,251.09 84.80,250.79 85.80,250.51 86.80,250.26 87.80,250.03 88.80,249.82 89.80,249.63 90.80,249.45 91.80,249.30 92.80,249.15 93.80,249.02 94.80,248.90 95.80,248.80 96.80,248.70 97.80,248.61 98.80,248.53 99.80,248.45 100.80,248.39 101.80,248.32 102.80,248.27 103.80,248.22 104.60,248.18 104.60,251.37 103.80,251.41 102.80,251.46 101.80,251.51 100.80,251.58 99.80,251.64 98.80,251.72 97.80,251.80 96.80,251.89 95.80,251.99 94.80,252.09 93.80,252.21 92.80,252.34 91.80,252.49 90.80,252.64 89.80,252.82 88.80,253.01 87.80,253.22 86.80,253.45 85.80,253.70 84.80,253.98 83.80,254.28 82.80,254.61 81.80,254.98 80.80,255.39 79.80,255.83 78.80,256.32 77.80,256.86 76.80,257.45 75.80,258.09 75.30,258.45 74.80,258.81 74.30,259.20 73.80,259.59 73.30,260.02 72.80,260.45 72.30,260.92 71.80,261.40 71.40,260.93 71.00,260.08 70.60,258.98 70.40,258.33 70.20,257.68 70.00,256.94 69.80,256.21 69.60,255.39 69.40,254.58 69.27,253.98 69.13,253.39 69.00,252.80 68.87,252.17 68.73,251.53 68.60,250.90 68.70,250.90 68.45,250.09 68.20,249.30 67.70,249.30" fill="#9a9a9a" stroke="#9a9a9a" stroke-width="0.3" stroke-linejoin="round"/>
<polyline points="67.70,247.70 68.20,247.70 68.70,249.30 68.60,249.30 69.00,251.21 69.40,252.98 69.80,254.61 70.20,256.09 70.60,257.39 71.00,258.49 71.40,259.34 71.80,259.80 72.80,258.85 73.80,257.99 74.80,257.21 75.80,256.50 76.80,255.85 77.80,255.26 78.80,254.72 79.80,254.24 80.80,253.79 81.80,253.39 82.80,253.02 83.80,252.68 84.80,252.38 85.80,252.10 86.80,251.85 87.80,251.62 88.80,251.41 89.80,251.22 90.80,251.05 91.80,250.89 92.80,250.75 93.80,250.62 94.80,250.50 95.80,250.39 96.80,250.29 97.80,250.20 98.80,250.12 99.80,250.05 100.80,249.98 101.80,249.92 102.80,249.86 103.80,249.81 104.60,249.78" fill="none" stroke="#2a2a2a" stroke-width="1.0" stroke-linejoin="round"/>
<polygon points="117.00,245.48 117.50,245.73 117.67,246.58 117.83,246.63 118.00,247.37 117.80,247.55 117.88,248.09 117.96,248.55 118.04,249.66 118.12,249.81 118.20,250.66 118.30,251.23 118.40,252.41 118.50,252.96 118.60,253.33 118.70,253.76 118.80,255.02 118.90,254.95 119.00,256.35 119.13,257.10 119.27,257.27 119.40,258.22 119.53,258.62 119.67,259.73 119.80,260.55 120.00,261.21 120.20,262.05 120.40,262.62 120.60,262.96 121.00,264.30 121.50,263.31 122.00,262.41 122.50,262.52 123.00,261.76 123.50,260.58 124.00,260.19 124.50,260.05 125.00,259.47 125.50,258.59 126.00,258.28 126.50,258.11 127.00,257.29 127.50,257.58 128.00,256.43 128.50,256.72 129.00,256.31 129.50,255.36 130.00,255.22 131.00,254.53 132.00,253.82 133.00,253.91 134.00,253.63 135.00,252.85 136.00,252.55 137.00,251.63 138.00,251.17 139.00,251.27 140.00,251.35 141.00,250.79 142.00,250.62 143.00,250.00 144.00,250.33 145.00,250.31 146.00,250.02 147.00,249.29 148.00,248.95 149.00,248.79 150.00,249.02 151.00,249.33 152.00,249.12 152.80,248.69 152.80,254.72 152.00,254.95 151.00,254.87 150.00,254.77 149.00,255.35 148.00,255.36 147.00,255.59 146.00,255.66 145.00,256.09 144.00,255.55 143.00,256.24 142.00,256.60 141.00,256.20 140.00,256.58 139.00,256.63 138.00,257.69 137.00,257.31 136.00,258.21 135.00,258.26 134.00,259.39 133.00,259.60 132.00,260.26 131.00,260.90 130.00,261.29 129.50,261.36 129.00,261.88 128.50,262.00 128.00,262.61 127.50,262.58 127.00,263.26 126.50,263.82 126.00,264.70 125.50,264.29 125.00,265.05 124.50,266.13 124.00,266.32 123.50,266.57 123.00,267.26 122.50,267.46 122.00,268.39 121.50,269.03 121.00,270.20 120.60,268.58 120.40,268.19 120.20,267.48 120.00,266.42 119.80,265.83 119.67,265.18 119.53,264.28 119.40,263.97 119.27,263.67 119.13,262.17 119.00,261.46 118.90,261.08 118.80,260.91 118.70,259.86 118.60,258.76 118.50,258.77 118.40,258.18 118.30,256.65 118.20,256.86 118.12,256.14 118.04,255.46 117.96,254.23 117.88,254.23 117.80,253.55 118.00,253.52 117.83,252.43 117.67,251.70 117.50,251.31 117.00,250.70" fill="#c8c8c8" stroke="none"/>
<polygon points="117.00,246.71 117.50,246.71 117.67,247.44 117.83,248.17 118.00,248.91 117.80,248.91 117.88,249.50 117.96,250.10 118.04,250.69 118.12,251.29 118.20,251.88 118.30,252.57 118.40,253.27 118.50,253.96 118.60,254.65 118.70,255.29 118.80,255.93 118.90,256.56 119.00,257.20 119.13,257.97 119.27,258.74 119.40,259.51 119.53,260.18 119.67,260.86 119.80,261.54 120.00,262.40 120.20,263.25 120.40,263.92 120.60,264.58 121.00,265.30 121.50,264.65 122.00,263.99 122.50,263.39 123.00,262.79 123.50,262.23 124.00,261.68 124.50,261.17 125.00,260.66 125.50,260.19 126.00,259.72 126.50,259.28 127.00,258.85 127.50,258.45 128.00,258.06 128.50,257.69 129.00,257.33 129.50,256.99 130.00,256.65 131.00,256.03 132.00,255.46 133.00,254.94 134.00,254.46 135.00,254.01 136.00,253.60 137.00,253.23 138.00,252.88 139.00,252.56 140.00,252.27 141.00,252.00 142.00,251.75 143.00,251.53 144.00,251.32 145.00,251.12 146.00,250.95 147.00,250.78 148.00,250.63 149.00,250.50 150.00,250.37 151.00,250.25 152.00,250.14 152.80,250.06 152.80,253.25 152.00,253.33 151.00,253.44 150.00,253.56 149.00,253.69 148.00,253.82 147.00,253.97 146.00,254.14 145.00,254.31 144.00,254.51 143.00,254.72 142.00,254.94 141.00,255.19 140.00,255.46 139.00,255.75 138.00,256.07 137.00,256.42 136.00,256.79 135.00,257.20 134.00,257.65 133.00,258.13 132.00,258.65 131.00,259.22 130.00,259.84 129.50,260.18 129.00,260.52 128.50,260.88 128.00,261.25 127.50,261.64 127.00,262.04 126.50,262.47 126.00,262.91 125.50,263.38 125.00,263.85 124.50,264.36 124.00,264.87 123.50,265.42 123.00,265.98 122.50,266.58 122.00,267.18 121.50,267.84 121.00,268.50 120.60,267.77 120.40,267.11 120.20,266.45 120.00,265.59 119.80,264.73 119.67,264.05 119.53,263.37 119.40,262.70 119.27,261.93 119.13,261.16 119.00,260.39 118.90,259.75 118.80,259.12 118.70,258.48 118.60,257.84 118.50,257.15 118.40,256.46 118.30,255.76 118.20,255.07 118.12,254.48 118.04,253.88 117.96,253.29 117.88,252.69 117.80,252.09 118.00,252.09 117.83,251.36 117.67,250.63 117.50,249.90 117.00,249.90" fill="#9a9a9a" stroke="#9a9a9a" stroke-width="0.3" stroke-linejoin="round"/>
<polyline points="117.00,248.30 117.50,248.30 118.00,250.50 117.80,250.50 118.20,253.48 118.60,256.25 119.00,258.80 119.40,261.10 119.80,263.13 120.20,264.85 120.60,266.18 121.00,266.90 122.00,265.59 123.00,264.38 124.00,263.27 125.00,262.25 126.00,261.31 127.00,260.45 128.00,259.65 129.00,258.92 130.00,258.25 131.00,257.63 132.00,257.06 133.00,256.53 134.00,256.05 135.00,255.61 136.00,255.20 137.00,254.82 138.00,254.48 139.00,254.16 140.00,253.87 141.00,253.60 142.00,253.35 143.00,253.12 144.00,252.91 145.00,252.72 146.00,252.54 147.00,252.38 148.00,252.23 149.00,252.09 150.00,251.96 151.00,251.85 152.00,251.74 152.80,251.66" fill="none" stroke="#2a2a2a" stroke-width="1.0" stroke-linejoin="round"/>
<polygon points="162.70,244.56 163.20,244.25 163.45,245.22 163.70,245.20 163.60,245.45 163.66,245.98 163.72,246.61 163.77,247.23 163.83,247.72 163.89,249.08 163.94,249.70 164.00,250.02 164.06,250.22 164.12,251.50 164.17,251.99 164.24,252.29 164.30,252.56 164.37,253.46 164.43,254.20 164.49,255.20 164.56,255.90 164.62,255.81 164.69,256.21 164.75,257.12 164.82,257.62 164.89,258.75 164.97,258.82 165.04,260.37 165.11,260.11 165.18,260.77 165.25,262.27 165.32,262.83 165.41,262.85 165.49,263.44 165.57,264.27 165.65,265.12 165.74,265.81 165.82,266.77 165.90,267.22 166.00,267.90 166.09,268.31 166.19,269.44 166.28,270.38 166.38,270.55 166.47,271.36 166.59,272.54 166.70,273.28 166.82,273.08 166.93,274.02 167.05,275.35 167.19,275.36 167.34,276.44 167.48,277.26 167.62,278.11 167.91,278.15 168.20,279.17 168.53,278.66 168.87,277.86 169.20,277.70 169.53,277.07 169.87,276.07 170.20,275.55 170.53,274.87 170.87,275.16 171.20,274.58 171.70,273.26 172.20,272.93 172.70,271.71 173.20,271.25 173.70,270.29 174.20,270.39 174.70,269.77 175.20,269.18 175.70,268.62 176.20,267.60 176.70,266.70 177.20,266.85 177.70,266.42 178.20,265.87 178.70,265.09 179.20,264.76 179.70,263.92 180.20,263.62 180.70,263.38 181.20,262.29 181.70,262.03 182.20,261.39 182.70,261.31 183.20,261.14 183.70,260.28 184.20,259.89 184.70,259.32 185.20,259.38 185.70,258.51 186.20,258.40 186.70,258.07 187.20,258.08 188.20,257.51 189.20,256.27 190.20,256.49 191.20,255.20 192.20,254.71 193.20,254.27 194.20,254.20 195.20,254.00 196.20,253.56 197.20,252.88 198.20,252.13 199.20,252.09 199.80,252.10 199.80,258.99 199.20,258.99 198.20,259.35 197.20,259.65 196.20,259.80 195.20,260.27 194.20,261.00 193.20,261.11 192.20,261.85 191.20,262.65 190.20,263.16 189.20,263.39 188.20,263.89 187.20,265.06 186.70,265.15 186.20,265.19 185.70,265.39 185.20,265.71 184.70,266.64 184.20,266.64 183.70,267.27 183.20,267.29 182.70,267.93 182.20,268.19 181.70,269.17 181.20,269.17 180.70,269.26 180.20,270.01 179.70,270.37 179.20,271.64 178.70,271.60 178.20,272.03 177.70,272.94 177.20,273.40 176.70,273.64 176.20,274.08 175.70,274.63 175.20,275.25 174.70,275.98 174.20,277.00 173.70,277.93 173.20,277.98 172.70,279.12 172.20,279.59 171.70,280.27 171.20,281.21 170.87,281.55 170.53,281.59 170.20,282.14 169.87,282.81 169.53,283.85 169.20,284.54 168.87,284.33 168.53,285.74 168.20,286.36 167.91,284.83 167.62,284.73 167.48,283.77 167.34,282.83 167.19,282.26 167.05,282.05 166.93,280.68 166.82,280.07 166.70,279.82 166.59,278.58 166.47,278.28 166.38,277.10 166.28,276.36 166.19,276.31 166.09,275.82 166.00,274.73 165.90,274.48 165.82,273.00 165.74,273.06 165.65,272.29 165.57,271.44 165.49,270.33 165.41,269.60 165.32,269.72 165.25,269.05 165.18,268.28 165.11,267.82 165.04,266.70 164.97,266.52 164.89,265.38 164.82,264.99 164.75,264.55 164.69,263.49 164.62,262.79 164.56,262.38 164.49,261.67 164.43,260.59 164.37,260.04 164.30,259.95 164.24,259.24 164.17,258.30 164.12,258.29 164.06,257.07 164.00,256.53 163.94,255.86 163.89,254.96 163.83,254.55 163.77,254.21 163.72,254.05 163.66,252.86 163.60,252.42 163.70,252.75 163.45,251.85 163.20,251.06 162.70,250.97" fill="#c8c8c8" stroke="none"/>
<polygon points="162.70,245.63 163.20,245.63 163.45,246.38 163.70,247.13 163.60,247.13 163.66,247.74 163.72,248.35 163.77,248.95 163.83,249.56 163.89,250.17 163.94,250.78 164.00,251.39 164.06,251.99 164.12,252.60 164.17,253.21 164.24,253.84 164.30,254.47 164.37,255.10 164.43,255.73 164.49,256.36 164.56,256.98 164.62,257.61 164.69,258.24 164.75,258.87 164.82,259.52 164.89,260.17 164.97,260.82 165.04,261.47 165.11,262.13 165.18,262.78 165.25,263.43 165.32,264.08 165.41,264.75 165.49,265.42 165.57,266.10 165.65,266.77 165.74,267.44 165.82,268.11 165.90,268.79 166.00,269.48 166.09,270.17 166.19,270.86 166.28,271.55 166.38,272.25 166.47,272.94 166.59,273.64 166.70,274.34 166.82,275.04 166.93,275.74 167.05,276.44 167.19,277.12 167.34,277.80 167.48,278.47 167.62,279.15 167.91,279.89 168.20,280.63 168.53,280.06 168.87,279.48 169.20,278.91 169.53,278.37 169.87,277.83 170.20,277.28 170.53,276.77 170.87,276.25 171.20,275.74 171.70,275.00 172.20,274.27 172.70,273.57 173.20,272.88 173.70,272.22 174.20,271.56 174.70,270.93 175.20,270.31 175.70,269.71 176.20,269.12 176.70,268.55 177.20,267.99 177.70,267.46 178.20,266.92 178.70,266.41 179.20,265.91 179.70,265.43 180.20,264.94 180.70,264.49 181.20,264.03 181.70,263.60 182.20,263.16 182.70,262.75 183.20,262.34 183.70,261.95 184.20,261.56 184.70,261.19 185.20,260.82 185.70,260.47 186.20,260.12 186.70,259.79 187.20,259.45 188.20,258.82 189.20,258.22 190.20,257.65 191.20,257.11 192.20,256.60 193.20,256.12 194.20,255.66 195.20,255.22 196.20,254.80 197.20,254.41 198.20,254.04 199.20,253.68 199.80,253.48 199.80,257.22 199.20,257.42 198.20,257.78 197.20,258.15 196.20,258.54 195.20,258.96 194.20,259.40 193.20,259.86 192.20,260.34 191.20,260.85 190.20,261.39 189.20,261.96 188.20,262.56 187.20,263.19 186.70,263.53 186.20,263.86 185.70,264.21 185.20,264.56 184.70,264.93 184.20,265.30 183.70,265.69 183.20,266.08 182.70,266.49 182.20,266.90 181.70,267.34 181.20,267.77 180.70,268.23 180.20,268.68 179.70,269.17 179.20,269.65 178.70,270.15 178.20,270.66 177.70,271.20 177.20,271.73 176.70,272.29 176.20,272.86 175.70,273.45 175.20,274.05 174.70,274.67 174.20,275.30 173.70,275.96 173.20,276.62 172.70,277.31 172.20,278.01 171.70,278.74 171.20,279.48 170.87,279.99 170.53,280.51 170.20,281.02 169.87,281.57 169.53,282.11 169.20,282.65 168.87,283.22 168.53,283.80 168.20,284.37 167.91,283.63 167.62,282.89 167.48,282.21 167.34,281.54 167.19,280.86 167.05,280.18 166.93,279.48 166.82,278.78 166.70,278.08 166.59,277.38 166.47,276.68 166.38,275.99 166.28,275.29 166.19,274.60 166.09,273.91 166.00,273.22 165.90,272.53 165.82,271.85 165.74,271.18 165.65,270.51 165.57,269.84 165.49,269.16 165.41,268.49 165.32,267.82 165.25,267.17 165.18,266.52 165.11,265.87 165.04,265.21 164.97,264.56 164.89,263.91 164.82,263.26 164.75,262.61 164.69,261.98 164.62,261.35 164.56,260.72 164.49,260.10 164.43,259.47 164.37,258.84 164.30,258.21 164.24,257.58 164.17,256.95 164.12,256.34 164.06,255.73 164.00,255.13 163.94,254.52 163.89,253.91 163.83,253.30 163.77,252.69 163.72,252.09 163.66,251.48 163.60,250.87 163.70,250.87 163.45,250.12 163.20,249.37 162.70,249.37" fill="#9a9a9a" stroke="#9a9a9a" stroke-width="0.3" stroke-linejoin="round"/>
<polyline points="162.70,247.50 163.20,247.50 163.70,249.00 163.60,249.00 164.17,255.08 164.75,260.74 165.32,265.95 165.90,270.66 166.47,274.81 167.05,278.31 167.62,281.02 168.20,282.50 169.20,280.78 170.20,279.15 171.20,277.61 172.20,276.14 173.20,274.75 174.20,273.43 175.20,272.18 176.20,270.99 177.20,269.86 178.20,268.79 179.20,267.78 180.20,266.81 181.20,265.90 182.20,265.03 183.20,264.21 184.20,263.43 185.20,262.69 186.20,261.99 187.20,261.32 188.20,260.69 189.20,260.09 190.20,259.52 191.20,258.98 192.20,258.47 193.20,257.99 194.20,257.53 195.20,257.09 196.20,256.67 197.20,256.28 198.20,255.91 199.20,255.55 199.80,255.35" fill="none" stroke="#2a2a2a" stroke-width="1.0" stroke-linejoin="round"/>
<line x1="192.50" y1="277.20" x2="192.50" y2="285.80" stroke="#111" stroke-width="0.9"/>
<line x1="183.30" y1="285.80" x2="192.90" y2="285.80" stroke="#111" stroke-width="0.9"/>
<text x="194.50" y="284.30" font-size="6.4" text-anchor="start" fill="#1a1a1a" textLength="17.0" lengthAdjust="spacingAndGlyphs">50 pA</text>
<text x="179.70" y="293.00" font-size="6.4" text-anchor="start" fill="#1a1a1a" textLength="17.2" lengthAdjust="spacingAndGlyphs">10 ms</text>
<line x1="245.90" y1="183.80" x2="245.90" y2="230.90" stroke="#222" stroke-width="0.85"/>
<line x1="243.50" y1="230.90" x2="245.90" y2="230.90" stroke="#222" stroke-width="0.85"/>
<text x="242.50" y="233.01" font-size="6.8" text-anchor="end" fill="#1a1a1a">0</text>
<line x1="243.50" y1="215.20" x2="245.90" y2="215.20" stroke="#222" stroke-width="0.85"/>
<text x="242.50" y="217.31" font-size="6.8" text-anchor="end" fill="#1a1a1a">100</text>
<line x1="243.50" y1="199.50" x2="245.90" y2="199.50" stroke="#222" stroke-width="0.85"/>
<text x="242.50" y="201.61" font-size="6.8" text-anchor="end" fill="#1a1a1a">200</text>
<line x1="243.50" y1="183.80" x2="245.90" y2="183.80" stroke="#222" stroke-width="0.85"/>
<text x="242.50" y="185.91" font-size="6.8" text-anchor="end" fill="#1a1a1a">300</text>
<line x1="244.46" y1="223.05" x2="245.90" y2="223.05" stroke="#222" stroke-width="0.85"/>
<line x1="244.46" y1="207.35" x2="245.90" y2="207.35" stroke="#222" stroke-width="0.85"/>
<line x1="244.46" y1="191.65" x2="245.90" y2="191.65" stroke="#222" stroke-width="0.85"/>
<line x1="245.90" y1="238.60" x2="245.90" y2="285.60" stroke="#222" stroke-width="0.85"/>
<line x1="243.50" y1="285.60" x2="245.90" y2="285.60" stroke="#222" stroke-width="0.85"/>
<text x="242.50" y="287.71" font-size="6.8" text-anchor="end" fill="#1a1a1a">0</text>
<line x1="243.50" y1="269.93" x2="245.90" y2="269.93" stroke="#222" stroke-width="0.85"/>
<text x="242.50" y="272.04" font-size="6.8" text-anchor="end" fill="#1a1a1a">100</text>
<line x1="243.50" y1="254.27" x2="245.90" y2="254.27" stroke="#222" stroke-width="0.85"/>
<text x="242.50" y="256.37" font-size="6.8" text-anchor="end" fill="#1a1a1a">200</text>
<line x1="243.50" y1="238.60" x2="245.90" y2="238.60" stroke="#222" stroke-width="0.85"/>
<text x="242.50" y="240.71" font-size="6.8" text-anchor="end" fill="#1a1a1a">300</text>
<line x1="244.46" y1="277.77" x2="245.90" y2="277.77" stroke="#222" stroke-width="0.85"/>
<line x1="244.46" y1="262.10" x2="245.90" y2="262.10" stroke="#222" stroke-width="0.85"/>
<line x1="244.46" y1="246.43" x2="245.90" y2="246.43" stroke="#222" stroke-width="0.85"/>
<text x="249.60" y="188.60" font-size="6.6" text-anchor="start" fill="#1a1a1a">CT</text>
<text x="225.70" y="230.00" font-size="6.4" text-anchor="middle" fill="#1a1a1a" transform="rotate(-90 225.7 230.0)">EPSC amplitude (pA)</text>
<circle cx="248.40" cy="228.48" r="0.88" fill="#111" stroke="none" stroke-width="0.6"/>
<circle cx="249.31" cy="228.44" r="0.88" fill="#111" stroke="none" stroke-width="0.6"/>
<circle cx="250.22" cy="228.05" r="0.88" fill="#111" stroke="none" stroke-width="0.6"/>
<circle cx="251.13" cy="228.33" r="0.88" fill="#111" stroke="none" stroke-width="0.6"/>
<circle cx="252.04" cy="228.75" r="0.88" fill="#111" stroke="none" stroke-width="0.6"/>
<circle cx="252.95" cy="228.30" r="0.88" fill="#111" stroke="none" stroke-width="0.6"/>
<circle cx="253.86" cy="228.07" r="0.88" fill="#111" stroke="none" stroke-width="0.6"/>
<circle cx="254.77" cy="227.97" r="0.88" fill="#111" stroke="none" stroke-width="0.6"/>
<circle cx="255.68" cy="228.37" r="0.88" fill="#111" stroke="none" stroke-width="0.6"/>
<circle cx="256.59" cy="228.18" r="0.88" fill="#111" stroke="none" stroke-width="0.6"/>
<circle cx="257.50" cy="228.35" r="0.88" fill="#111" stroke="none" stroke-width="0.6"/>
<circle cx="258.41" cy="227.84" r="0.88" fill="#111" stroke="none" stroke-width="0.6"/>
<circle cx="259.32" cy="228.07" r="0.88" fill="#111" stroke="none" stroke-width="0.6"/>
<circle cx="260.23" cy="228.11" r="0.88" fill="#111" stroke="none" stroke-width="0.6"/>
<circle cx="261.14" cy="227.86" r="0.88" fill="#111" stroke="none" stroke-width="0.6"/>
<circle cx="262.05" cy="228.94" r="0.88" fill="#111" stroke="none" stroke-width="0.6"/>
<circle cx="262.96" cy="229.11" r="0.88" fill="#111" stroke="none" stroke-width="0.6"/>
<circle cx="263.87" cy="228.46" r="0.88" fill="#111" stroke="none" stroke-width="0.6"/>
<circle cx="264.78" cy="228.06" r="0.88" fill="#111" stroke="none" stroke-width="0.6"/>
<circle cx="265.69" cy="227.73" r="0.88" fill="#111" stroke="none" stroke-width="0.6"/>
<circle cx="266.60" cy="227.84" r="0.88" fill="#111" stroke="none" stroke-width="0.6"/>
<circle cx="267.40" cy="227.31" r="0.88" fill="#111" stroke="none" stroke-width="0.6"/>
<circle cx="268.34" cy="227.04" r="0.88" fill="#111" stroke="none" stroke-width="0.6"/>
<circle cx="269.27" cy="227.08" r="0.88" fill="#111" stroke="none" stroke-width="0.6"/>
<circle cx="270.21" cy="227.11" r="0.88" fill="#111" stroke="none" stroke-width="0.6"/>
<circle cx="271.15" cy="227.71" r="0.88" fill="#111" stroke="none" stroke-width="0.6"/>
<circle cx="272.08" cy="227.83" r="0.88" fill="#111" stroke="none" stroke-width="0.6"/>
<circle cx="273.02" cy="228.03" r="0.88" fill="#111" stroke="none" stroke-width="0.6"/>
<circle cx="273.96" cy="227.57" r="0.88" fill="#111" stroke="none" stroke-width="0.6"/>
<circle cx="274.89" cy="227.52" r="0.88" fill="#111" stroke="none" stroke-width="0.6"/>
<circle cx="275.83" cy="227.55" r="0.88" fill="#111" stroke="none" stroke-width="0.6"/>
<circle cx="276.77" cy="227.93" r="0.88" fill="#111" stroke="none" stroke-width="0.6"/>
<circle cx="277.71" cy="227.89" r="0.88" fill="#111" stroke="none" stroke-width="0.6"/>
<circle cx="278.64" cy="227.51" r="0.88" fill="#111" stroke="none" stroke-width="0.6"/>
<circle cx="279.58" cy="227.84" r="0.88" fill="#111" stroke="none" stroke-width="0.6"/>
<circle cx="280.52" cy="227.86" r="0.88" fill="#111" stroke="none" stroke-width="0.6"/>
<circle cx="281.45" cy="227.83" r="0.88" fill="#111" stroke="none" stroke-width="0.6"/>
<circle cx="282.39" cy="227.92" r="0.88" fill="#111" stroke="none" stroke-width="0.6"/>
<circle cx="283.33" cy="227.67" r="0.88" fill="#111" stroke="none" stroke-width="0.6"/>
<circle cx="284.26" cy="227.39" r="0.88" fill="#111" stroke="none" stroke-width="0.6"/>
<circle cx="285.20" cy="227.10" r="0.88" fill="#111" stroke="none" stroke-width="0.6"/>
<circle cx="286.40" cy="223.51" r="0.88" fill="#111" stroke="none" stroke-width="0.6"/>
<circle cx="287.32" cy="223.45" r="0.88" fill="#111" stroke="none" stroke-width="0.6"/>
<circle cx="288.23" cy="223.77" r="0.88" fill="#111" stroke="none" stroke-width="0.6"/>
<circle cx="289.15" cy="223.06" r="0.88" fill="#111" stroke="none" stroke-width="0.6"/>
<circle cx="290.06" cy="223.15" r="0.88" fill="#111" stroke="none" stroke-width="0.6"/>
<circle cx="290.98" cy="222.96" r="0.88" fill="#111" stroke="none" stroke-width="0.6"/>
<circle cx="291.89" cy="222.13" r="0.88" fill="#111" stroke="none" stroke-width="0.6"/>
<circle cx="292.81" cy="222.37" r="0.88" fill="#111" stroke="none" stroke-width="0.6"/>
<circle cx="293.73" cy="223.46" r="0.88" fill="#111" stroke="none" stroke-width="0.6"/>
<circle cx="294.64" cy="223.38" r="0.88" fill="#111" stroke="none" stroke-width="0.6"/>
<circle cx="295.56" cy="223.69" r="0.88" fill="#111" stroke="none" stroke-width="0.6"/>
<circle cx="296.47" cy="222.82" r="0.88" fill="#111" stroke="none" stroke-width="0.6"/>
<circle cx="297.39" cy="221.92" r="0.88" fill="#111" stroke="none" stroke-width="0.6"/>
<circle cx="298.31" cy="222.22" r="0.88" fill="#111" stroke="none" stroke-width="0.6"/>
<circle cx="299.22" cy="222.72" r="0.88" fill="#111" stroke="none" stroke-width="0.6"/>
<circle cx="300.14" cy="222.64" r="0.88" fill="#111" stroke="none" stroke-width="0.6"/>
<circle cx="301.05" cy="222.59" r="0.88" fill="#111" stroke="none" stroke-width="0.6"/>
<circle cx="301.97" cy="222.76" r="0.88" fill="#111" stroke="none" stroke-width="0.6"/>
<circle cx="302.88" cy="223.23" r="0.88" fill="#111" stroke="none" stroke-width="0.6"/>
<circle cx="303.80" cy="222.85" r="0.88" fill="#111" stroke="none" stroke-width="0.6"/>
<circle cx="305.20" cy="198.84" r="0.88" fill="#111" stroke="none" stroke-width="0.6"/>
<circle cx="306.11" cy="198.81" r="0.88" fill="#111" stroke="none" stroke-width="0.6"/>
<circle cx="307.02" cy="198.25" r="0.88" fill="#111" stroke="none" stroke-width="0.6"/>
<circle cx="307.93" cy="198.35" r="0.88" fill="#111" stroke="none" stroke-width="0.6"/>
<circle cx="308.84" cy="197.46" r="0.88" fill="#111" stroke="none" stroke-width="0.6"/>
<circle cx="309.75" cy="197.99" r="0.88" fill="#111" stroke="none" stroke-width="0.6"/>
<circle cx="310.66" cy="198.66" r="0.88" fill="#111" stroke="none" stroke-width="0.6"/>
<circle cx="311.57" cy="198.92" r="0.88" fill="#111" stroke="none" stroke-width="0.6"/>
<circle cx="312.48" cy="199.44" r="0.88" fill="#111" stroke="none" stroke-width="0.6"/>
<circle cx="313.39" cy="198.29" r="0.88" fill="#111" stroke="none" stroke-width="0.6"/>
<circle cx="314.30" cy="198.04" r="0.88" fill="#111" stroke="none" stroke-width="0.6"/>
<circle cx="315.21" cy="197.37" r="0.88" fill="#111" stroke="none" stroke-width="0.6"/>
<circle cx="316.12" cy="198.04" r="0.88" fill="#111" stroke="none" stroke-width="0.6"/>
<circle cx="317.03" cy="198.59" r="0.88" fill="#111" stroke="none" stroke-width="0.6"/>
<circle cx="317.94" cy="198.97" r="0.88" fill="#111" stroke="none" stroke-width="0.6"/>
<circle cx="318.85" cy="199.51" r="0.88" fill="#111" stroke="none" stroke-width="0.6"/>
<circle cx="319.76" cy="198.89" r="0.88" fill="#111" stroke="none" stroke-width="0.6"/>
<circle cx="320.67" cy="197.79" r="0.88" fill="#111" stroke="none" stroke-width="0.6"/>
<circle cx="321.58" cy="198.39" r="0.88" fill="#111" stroke="none" stroke-width="0.6"/>
<circle cx="322.49" cy="198.41" r="0.88" fill="#111" stroke="none" stroke-width="0.6"/>
<circle cx="323.40" cy="199.06" r="0.88" fill="#111" stroke="none" stroke-width="0.6"/>
<circle cx="248.80" cy="282.41" r="0.88" fill="#111" stroke="none" stroke-width="0.6"/>
<circle cx="249.73" cy="282.13" r="0.88" fill="#111" stroke="none" stroke-width="0.6"/>
<circle cx="250.65" cy="281.59" r="0.88" fill="#111" stroke="none" stroke-width="0.6"/>
<circle cx="251.58" cy="281.54" r="0.88" fill="#111" stroke="none" stroke-width="0.6"/>
<circle cx="252.51" cy="281.99" r="0.88" fill="#111" stroke="none" stroke-width="0.6"/>
<circle cx="253.43" cy="281.82" r="0.88" fill="#111" stroke="none" stroke-width="0.6"/>
<circle cx="254.36" cy="281.98" r="0.88" fill="#111" stroke="none" stroke-width="0.6"/>
<circle cx="255.28" cy="281.87" r="0.88" fill="#111" stroke="none" stroke-width="0.6"/>
<circle cx="256.21" cy="281.97" r="0.88" fill="#111" stroke="none" stroke-width="0.6"/>
<circle cx="257.14" cy="282.18" r="0.88" fill="#111" stroke="none" stroke-width="0.6"/>
<circle cx="258.06" cy="282.25" r="0.88" fill="#111" stroke="none" stroke-width="0.6"/>
<circle cx="258.99" cy="281.43" r="0.88" fill="#111" stroke="none" stroke-width="0.6"/>
<circle cx="259.92" cy="281.25" r="0.88" fill="#111" stroke="none" stroke-width="0.6"/>
<circle cx="260.84" cy="281.06" r="0.88" fill="#111" stroke="none" stroke-width="0.6"/>
<circle cx="261.77" cy="282.00" r="0.88" fill="#111" stroke="none" stroke-width="0.6"/>
<circle cx="262.69" cy="281.52" r="0.88" fill="#111" stroke="none" stroke-width="0.6"/>
<circle cx="263.62" cy="281.84" r="0.88" fill="#111" stroke="none" stroke-width="0.6"/>
<circle cx="264.55" cy="280.92" r="0.88" fill="#111" stroke="none" stroke-width="0.6"/>
<circle cx="265.47" cy="281.22" r="0.88" fill="#111" stroke="none" stroke-width="0.6"/>
<circle cx="266.40" cy="281.25" r="0.88" fill="#111" stroke="none" stroke-width="0.6"/>
<circle cx="268.00" cy="277.47" r="0.88" fill="#111" stroke="none" stroke-width="0.6"/>
<circle cx="268.94" cy="275.94" r="0.88" fill="#111" stroke="none" stroke-width="0.6"/>
<circle cx="269.87" cy="275.21" r="0.88" fill="#111" stroke="none" stroke-width="0.6"/>
<circle cx="270.81" cy="276.28" r="0.88" fill="#111" stroke="none" stroke-width="0.6"/>
<circle cx="271.75" cy="276.50" r="0.88" fill="#111" stroke="none" stroke-width="0.6"/>
<circle cx="272.68" cy="276.43" r="0.88" fill="#111" stroke="none" stroke-width="0.6"/>
<circle cx="273.62" cy="277.83" r="0.88" fill="#111" stroke="none" stroke-width="0.6"/>
<circle cx="274.56" cy="278.06" r="0.88" fill="#111" stroke="none" stroke-width="0.6"/>
<circle cx="275.49" cy="276.53" r="0.88" fill="#111" stroke="none" stroke-width="0.6"/>
<circle cx="276.43" cy="276.05" r="0.88" fill="#111" stroke="none" stroke-width="0.6"/>
<circle cx="277.37" cy="275.43" r="0.88" fill="#111" stroke="none" stroke-width="0.6"/>
<circle cx="278.31" cy="275.76" r="0.88" fill="#111" stroke="none" stroke-width="0.6"/>
<circle cx="279.24" cy="276.78" r="0.88" fill="#111" stroke="none" stroke-width="0.6"/>
<circle cx="280.18" cy="276.82" r="0.88" fill="#111" stroke="none" stroke-width="0.6"/>
<circle cx="281.12" cy="277.55" r="0.88" fill="#111" stroke="none" stroke-width="0.6"/>
<circle cx="282.05" cy="276.54" r="0.88" fill="#111" stroke="none" stroke-width="0.6"/>
<circle cx="282.99" cy="275.90" r="0.88" fill="#111" stroke="none" stroke-width="0.6"/>
<circle cx="283.93" cy="276.36" r="0.88" fill="#111" stroke="none" stroke-width="0.6"/>
<circle cx="284.86" cy="276.08" r="0.88" fill="#111" stroke="none" stroke-width="0.6"/>
<circle cx="285.80" cy="276.44" r="0.88" fill="#111" stroke="none" stroke-width="0.6"/>
<circle cx="286.60" cy="269.57" r="0.88" fill="#111" stroke="none" stroke-width="0.6"/>
<circle cx="287.54" cy="269.13" r="0.88" fill="#111" stroke="none" stroke-width="0.6"/>
<circle cx="288.47" cy="268.90" r="0.88" fill="#111" stroke="none" stroke-width="0.6"/>
<circle cx="289.41" cy="270.34" r="0.88" fill="#111" stroke="none" stroke-width="0.6"/>
<circle cx="290.35" cy="271.37" r="0.88" fill="#111" stroke="none" stroke-width="0.6"/>
<circle cx="291.28" cy="271.39" r="0.88" fill="#111" stroke="none" stroke-width="0.6"/>
<circle cx="292.22" cy="270.40" r="0.88" fill="#111" stroke="none" stroke-width="0.6"/>
<circle cx="293.16" cy="269.34" r="0.88" fill="#111" stroke="none" stroke-width="0.6"/>
<circle cx="294.09" cy="269.23" r="0.88" fill="#111" stroke="none" stroke-width="0.6"/>
<circle cx="295.03" cy="270.20" r="0.88" fill="#111" stroke="none" stroke-width="0.6"/>
<circle cx="295.97" cy="270.90" r="0.88" fill="#111" stroke="none" stroke-width="0.6"/>
<circle cx="296.91" cy="270.21" r="0.88" fill="#111" stroke="none" stroke-width="0.6"/>
<circle cx="297.84" cy="269.61" r="0.88" fill="#111" stroke="none" stroke-width="0.6"/>
<circle cx="298.78" cy="269.13" r="0.88" fill="#111" stroke="none" stroke-width="0.6"/>
<circle cx="299.72" cy="269.20" r="0.88" fill="#111" stroke="none" stroke-width="0.6"/>
<circle cx="300.65" cy="270.13" r="0.88" fill="#111" stroke="none" stroke-width="0.6"/>
<circle cx="301.59" cy="270.53" r="0.88" fill="#111" stroke="none" stroke-width="0.6"/>
<circle cx="302.53" cy="270.09" r="0.88" fill="#111" stroke="none" stroke-width="0.6"/>
<circle cx="303.46" cy="270.63" r="0.88" fill="#111" stroke="none" stroke-width="0.6"/>
<circle cx="304.40" cy="269.72" r="0.88" fill="#111" stroke="none" stroke-width="0.6"/>
<circle cx="305.20" cy="256.33" r="0.88" fill="#111" stroke="none" stroke-width="0.6"/>
<circle cx="306.11" cy="255.94" r="0.88" fill="#111" stroke="none" stroke-width="0.6"/>
<circle cx="307.02" cy="255.83" r="0.88" fill="#111" stroke="none" stroke-width="0.6"/>
<circle cx="307.93" cy="256.74" r="0.88" fill="#111" stroke="none" stroke-width="0.6"/>
<circle cx="308.84" cy="256.56" r="0.88" fill="#111" stroke="none" stroke-width="0.6"/>
<circle cx="309.75" cy="257.25" r="0.88" fill="#111" stroke="none" stroke-width="0.6"/>
<circle cx="310.66" cy="256.68" r="0.88" fill="#111" stroke="none" stroke-width="0.6"/>
<circle cx="311.57" cy="256.70" r="0.88" fill="#111" stroke="none" stroke-width="0.6"/>
<circle cx="312.48" cy="255.41" r="0.88" fill="#111" stroke="none" stroke-width="0.6"/>
<circle cx="313.39" cy="255.31" r="0.88" fill="#111" stroke="none" stroke-width="0.6"/>
<circle cx="314.30" cy="255.76" r="0.88" fill="#111" stroke="none" stroke-width="0.6"/>
<circle cx="315.21" cy="256.77" r="0.88" fill="#111" stroke="none" stroke-width="0.6"/>
<circle cx="316.12" cy="256.49" r="0.88" fill="#111" stroke="none" stroke-width="0.6"/>
<circle cx="317.03" cy="256.73" r="0.88" fill="#111" stroke="none" stroke-width="0.6"/>
<circle cx="317.94" cy="255.97" r="0.88" fill="#111" stroke="none" stroke-width="0.6"/>
<circle cx="318.85" cy="255.39" r="0.88" fill="#111" stroke="none" stroke-width="0.6"/>
<circle cx="319.76" cy="255.42" r="0.88" fill="#111" stroke="none" stroke-width="0.6"/>
<circle cx="320.67" cy="256.45" r="0.88" fill="#111" stroke="none" stroke-width="0.6"/>
<circle cx="321.58" cy="256.60" r="0.88" fill="#111" stroke="none" stroke-width="0.6"/>
<circle cx="322.49" cy="257.56" r="0.88" fill="#111" stroke="none" stroke-width="0.6"/>
<circle cx="323.40" cy="256.61" r="0.88" fill="#111" stroke="none" stroke-width="0.6"/>
<text x="249.60" y="244.60" font-size="6.6" text-anchor="start" fill="#1a1a1a">PT</text>
<rect x="248.3" y="286.6" width="76.4" height="2.0" fill="#d6d6d6" stroke="#7a7a7a" stroke-width="0.5"/>
<line x1="267.80" y1="286.20" x2="267.80" y2="288.80" stroke="#666" stroke-width="0.5"/>
<line x1="286.40" y1="286.20" x2="286.40" y2="288.80" stroke="#666" stroke-width="0.5"/>
<line x1="305.00" y1="286.20" x2="305.00" y2="288.80" stroke="#666" stroke-width="0.5"/>
<text x="257.00" y="294.20" font-size="5.4" text-anchor="middle" fill="#1a1a1a" font-style="italic">1.5 mM</text>
<text x="276.00" y="294.20" font-size="5.4" text-anchor="middle" fill="#1a1a1a" font-style="italic">2 mM</text>
<text x="294.20" y="294.20" font-size="5.4" text-anchor="middle" fill="#1a1a1a" font-style="italic">4 mM</text>
<text x="312.40" y="294.20" font-size="5.4" text-anchor="middle" fill="#1a1a1a" font-style="italic">4 mM</text>
<text x="317.00" y="298.60" font-size="5.4" text-anchor="middle" fill="#1a1a1a" font-style="italic">+ 4-AP</text>
<line x1="24.10" y1="321.60" x2="24.10" y2="378.00" stroke="#222" stroke-width="0.85"/>
<line x1="21.70" y1="378.00" x2="24.10" y2="378.00" stroke="#222" stroke-width="0.85"/>
<text x="20.70" y="380.05" font-size="6.6" text-anchor="end" fill="#1a1a1a">0</text>
<line x1="21.70" y1="355.60" x2="24.10" y2="355.60" stroke="#222" stroke-width="0.85"/>
<text x="20.70" y="357.65" font-size="6.6" text-anchor="end" fill="#1a1a1a">25</text>
<line x1="21.70" y1="333.20" x2="24.10" y2="333.20" stroke="#222" stroke-width="0.85"/>
<text x="20.70" y="335.25" font-size="6.6" text-anchor="end" fill="#1a1a1a">50</text>
<line x1="22.66" y1="366.80" x2="24.10" y2="366.80" stroke="#222" stroke-width="0.85"/>
<line x1="22.66" y1="344.40" x2="24.10" y2="344.40" stroke="#222" stroke-width="0.85"/>
<line x1="26.80" y1="378.40" x2="102.80" y2="378.40" stroke="#222" stroke-width="0.85"/>
<line x1="27.60" y1="378.40" x2="27.60" y2="380.60" stroke="#222" stroke-width="0.85"/>
<text x="27.60" y="388.60" font-size="6.6" text-anchor="middle" fill="#1a1a1a">0</text>
<line x1="37.00" y1="378.40" x2="37.00" y2="379.80" stroke="#222" stroke-width="0.85"/>
<line x1="46.40" y1="378.40" x2="46.40" y2="380.60" stroke="#222" stroke-width="0.85"/>
<text x="46.40" y="388.60" font-size="6.6" text-anchor="middle" fill="#1a1a1a">100</text>
<line x1="55.80" y1="378.40" x2="55.80" y2="379.80" stroke="#222" stroke-width="0.85"/>
<line x1="65.20" y1="378.40" x2="65.20" y2="380.60" stroke="#222" stroke-width="0.85"/>
<text x="65.20" y="388.60" font-size="6.6" text-anchor="middle" fill="#1a1a1a">200</text>
<line x1="74.60" y1="378.40" x2="74.60" y2="379.80" stroke="#222" stroke-width="0.85"/>
<line x1="84.00" y1="378.40" x2="84.00" y2="380.60" stroke="#222" stroke-width="0.85"/>
<text x="84.00" y="388.60" font-size="6.6" text-anchor="middle" fill="#1a1a1a">300</text>
<line x1="93.40" y1="378.40" x2="93.40" y2="379.80" stroke="#222" stroke-width="0.85"/>
<line x1="102.80" y1="378.40" x2="102.80" y2="380.60" stroke="#222" stroke-width="0.85"/>
<text x="102.80" y="388.60" font-size="6.6" text-anchor="middle" fill="#1a1a1a">400</text>
<polyline points="27.60,378.00 28.18,376.52 28.76,375.06 29.34,373.63 29.92,372.23 30.50,370.84 31.08,369.49 31.66,368.16 32.24,366.85 32.82,365.57 33.40,364.31 33.98,363.08 34.56,361.87 35.14,360.69 35.72,359.53 36.30,358.40 36.87,357.29 37.45,356.21 38.03,355.15 38.61,354.12 39.19,353.11 39.77,352.13 40.35,351.17 40.93,350.24 41.51,349.33 42.09,348.44 42.67,347.59 43.25,346.75 43.83,345.94 44.41,345.16 44.99,344.40 45.57,343.67 46.15,342.96 46.73,342.27 47.31,341.61 47.89,340.98 48.47,340.37 49.05,339.78 49.63,339.22 50.21,338.69 50.79,338.18 51.37,337.69 51.95,337.23 52.53,336.80 53.11,336.39 53.69,336.00 54.26,335.64 54.84,335.30 55.42,334.99 56.00,334.71 56.58,334.44 57.16,334.21 57.74,334.00 58.32,333.81 58.90,333.65 59.48,333.51 60.06,333.40 60.64,333.31 61.22,333.25 61.80,333.21 62.38,333.20 62.96,333.21 63.54,333.25 64.12,333.31 64.70,333.40 65.28,333.51 65.86,333.65 66.44,333.81 67.02,334.00 67.60,334.21 68.18,334.44 68.76,334.71 69.34,334.99 69.92,335.30 70.50,335.64 71.08,336.00 71.65,336.39 72.23,336.80 72.81,337.23 73.39,337.69 73.97,338.18 74.55,338.69 75.13,339.22 75.71,339.78 76.29,340.37 76.87,340.98 77.45,341.61 78.03,342.27 78.61,342.96 79.19,343.67 79.77,344.40 80.35,345.16 80.93,345.94 81.51,346.75 82.09,347.59 82.67,348.44 83.25,349.33 83.83,350.24 84.41,351.17 84.99,352.13 85.57,353.11 86.15,354.12 86.73,355.15 87.31,356.21 87.89,357.29 88.47,358.40 89.04,359.53 89.62,360.69 90.20,361.87 90.78,363.08 91.36,364.31 91.94,365.57 92.52,366.85 93.10,368.16 93.68,369.49 94.26,370.84 94.84,372.23 95.42,373.63 96.00,375.06 96.58,376.52 97.16,378.00" fill="none" stroke="#333" stroke-width="0.75" stroke-linejoin="round"/>
<circle cx="31.10" cy="369.40" r="2.0" fill="#000" stroke="none" stroke-width="0.6"/>
<circle cx="31.90" cy="367.70" r="2.0" fill="#000" stroke="none" stroke-width="0.6"/>
<circle cx="36.80" cy="357.50" r="2.0" fill="#000" stroke="none" stroke-width="0.6"/>
<circle cx="66.40" cy="333.20" r="2.0" fill="#000" stroke="none" stroke-width="0.6"/>
<text x="62.60" y="320.40" font-size="6.4" text-anchor="middle" fill="#1a1a1a">CT</text>
<text x="8.60" y="348.00" font-size="6.6" text-anchor="middle" fill="#1a1a1a" transform="rotate(-90 8.6 348.0)">Variance (pA<tspan font-size="4.0" dy="-2.5">2</tspan><tspan dy="2.5">)</tspan></text>
<text x="65.10" y="395.50" font-size="6.6" text-anchor="middle" fill="#1a1a1a">Mean (pA)</text>
<line x1="126.40" y1="321.60" x2="126.40" y2="378.00" stroke="#222" stroke-width="0.85"/>
<line x1="124.00" y1="378.00" x2="126.40" y2="378.00" stroke="#222" stroke-width="0.85"/>
<text x="123.00" y="380.05" font-size="6.6" text-anchor="end" fill="#1a1a1a">0</text>
<line x1="124.00" y1="355.60" x2="126.40" y2="355.60" stroke="#222" stroke-width="0.85"/>
<text x="123.00" y="357.65" font-size="6.6" text-anchor="end" fill="#1a1a1a">25</text>
<line x1="124.00" y1="333.20" x2="126.40" y2="333.20" stroke="#222" stroke-width="0.85"/>
<text x="123.00" y="335.25" font-size="6.6" text-anchor="end" fill="#1a1a1a">50</text>
<line x1="124.96" y1="366.80" x2="126.40" y2="366.80" stroke="#222" stroke-width="0.85"/>
<line x1="124.96" y1="344.40" x2="126.40" y2="344.40" stroke="#222" stroke-width="0.85"/>
<line x1="129.30" y1="378.40" x2="204.80" y2="378.40" stroke="#222" stroke-width="0.85"/>
<line x1="130.30" y1="378.40" x2="130.30" y2="380.60" stroke="#222" stroke-width="0.85"/>
<text x="130.30" y="388.60" font-size="6.6" text-anchor="middle" fill="#1a1a1a">0</text>
<line x1="142.70" y1="378.40" x2="142.70" y2="379.80" stroke="#222" stroke-width="0.85"/>
<line x1="155.10" y1="378.40" x2="155.10" y2="380.60" stroke="#222" stroke-width="0.85"/>
<text x="155.10" y="388.60" font-size="6.6" text-anchor="middle" fill="#1a1a1a">100</text>
<line x1="167.50" y1="378.40" x2="167.50" y2="379.80" stroke="#222" stroke-width="0.85"/>
<line x1="179.90" y1="378.40" x2="179.90" y2="380.60" stroke="#222" stroke-width="0.85"/>
<text x="179.90" y="388.60" font-size="6.6" text-anchor="middle" fill="#1a1a1a">200</text>
<line x1="192.30" y1="378.40" x2="192.30" y2="379.80" stroke="#222" stroke-width="0.85"/>
<line x1="204.70" y1="378.40" x2="204.70" y2="380.60" stroke="#222" stroke-width="0.85"/>
<text x="204.70" y="388.60" font-size="6.6" text-anchor="middle" fill="#1a1a1a">300</text>
<polyline points="130.30,378.00 130.87,376.46 131.43,374.95 132.00,373.46 132.57,371.99 133.13,370.56 133.70,369.15 134.26,367.76 134.83,366.40 135.40,365.07 135.96,363.76 136.53,362.48 137.10,361.23 137.66,360.00 138.23,358.79 138.79,357.62 139.36,356.46 139.93,355.34 140.49,354.24 141.06,353.16 141.63,352.12 142.19,351.09 142.76,350.10 143.32,349.13 143.89,348.18 144.46,347.26 145.02,346.37 145.59,345.50 146.16,344.66 146.72,343.85 147.29,343.06 147.85,342.29 148.42,341.55 148.99,340.84 149.55,340.16 150.12,339.50 150.69,338.86 151.25,338.25 151.82,337.67 152.38,337.12 152.95,336.58 153.52,336.08 154.08,335.60 154.65,335.15 155.22,334.72 155.78,334.32 156.35,333.94 156.91,333.60 157.48,333.27 158.05,332.97 158.61,332.70 159.18,332.46 159.75,332.24 160.31,332.04 160.88,331.87 161.44,331.73 162.01,331.62 162.58,331.52 163.14,331.46 163.71,331.42 164.28,331.41 164.84,331.42 165.41,331.46 165.97,331.52 166.54,331.62 167.11,331.73 167.67,331.87 168.24,332.04 168.81,332.24 169.37,332.46 169.94,332.70 170.50,332.97 171.07,333.27 171.64,333.60 172.20,333.94 172.77,334.32 173.34,334.72 173.90,335.15 174.47,335.60 175.04,336.08 175.60,336.58 176.17,337.12 176.73,337.67 177.30,338.25 177.87,338.86 178.43,339.50 179.00,340.16 179.57,340.84 180.13,341.55 180.70,342.29 181.26,343.06 181.83,343.85 182.40,344.66 182.96,345.50 183.53,346.37 184.10,347.26 184.66,348.18 185.23,349.13 185.79,350.10 186.36,351.09 186.93,352.12 187.49,353.16 188.06,354.24 188.63,355.34 189.19,356.46 189.76,357.62 190.32,358.79 190.89,360.00 191.46,361.23 192.02,362.48 192.59,363.76 193.16,365.07 193.72,366.40 194.29,367.76 194.85,369.15 195.42,370.56 195.99,371.99 196.55,373.46 197.12,374.95 197.69,376.46 198.25,378.00" fill="none" stroke="#333" stroke-width="0.75" stroke-linejoin="round"/>
<circle cx="136.00" cy="370.20" r="2.0" fill="#000" stroke="none" stroke-width="0.6"/>
<circle cx="145.00" cy="345.40" r="2.0" fill="#000" stroke="none" stroke-width="0.6"/>
<circle cx="154.00" cy="333.60" r="2.0" fill="#000" stroke="none" stroke-width="0.6"/>
<circle cx="176.20" cy="337.60" r="2.0" fill="#000" stroke="none" stroke-width="0.6"/>
<text x="164.80" y="320.40" font-size="6.4" text-anchor="middle" fill="#1a1a1a">PT</text>
<text x="110.90" y="348.00" font-size="6.6" text-anchor="middle" fill="#1a1a1a" transform="rotate(-90 110.9 348.0)">Variance (pA<tspan font-size="4.0" dy="-2.5">2</tspan><tspan dy="2.5">)</tspan></text>
<text x="168.40" y="395.50" font-size="6.6" text-anchor="middle" fill="#1a1a1a">Mean (pA)</text>
<line x1="238.20" y1="321.40" x2="238.20" y2="376.90" stroke="#222" stroke-width="0.85"/>
<line x1="235.80" y1="376.90" x2="238.20" y2="376.90" stroke="#222" stroke-width="0.85"/>
<text x="233.60" y="378.95" font-size="6.6" text-anchor="end" fill="#1a1a1a">0.0</text>
<line x1="235.80" y1="361.20" x2="238.20" y2="361.20" stroke="#222" stroke-width="0.85"/>
<text x="233.60" y="363.25" font-size="6.6" text-anchor="end" fill="#1a1a1a">0.1</text>
<line x1="235.80" y1="345.50" x2="238.20" y2="345.50" stroke="#222" stroke-width="0.85"/>
<text x="233.60" y="347.55" font-size="6.6" text-anchor="end" fill="#1a1a1a">0.2</text>
<line x1="235.80" y1="329.80" x2="238.20" y2="329.80" stroke="#222" stroke-width="0.85"/>
<text x="233.60" y="331.85" font-size="6.6" text-anchor="end" fill="#1a1a1a">0.3</text>
<line x1="236.76" y1="369.05" x2="238.20" y2="369.05" stroke="#222" stroke-width="0.85"/>
<line x1="236.76" y1="353.35" x2="238.20" y2="353.35" stroke="#222" stroke-width="0.85"/>
<line x1="236.76" y1="337.65" x2="238.20" y2="337.65" stroke="#222" stroke-width="0.85"/>
<line x1="240.90" y1="377.00" x2="268.50" y2="377.00" stroke="#222" stroke-width="0.85"/>
<line x1="247.65" y1="341.30" x2="247.65" y2="354.00" stroke="#484848" stroke-width="0.65"/>
<line x1="247.65" y1="366.00" x2="247.65" y2="369.40" stroke="#484848" stroke-width="0.65"/>
<rect x="242.80" y="354.00" width="9.70" height="12.00" fill="none" stroke="#484848" stroke-width="0.65"/>
<line x1="242.80" y1="361.00" x2="252.50" y2="361.00" stroke="#484848" stroke-width="0.65"/>
<circle cx="247.60" cy="341.30" r="1.1" fill="none" stroke="#9a9a9a" stroke-width="0.5"/>
<circle cx="249.00" cy="355.50" r="1.1" fill="none" stroke="#9a9a9a" stroke-width="0.5"/>
<circle cx="246.00" cy="363.00" r="1.1" fill="none" stroke="#9a9a9a" stroke-width="0.5"/>
<circle cx="247.60" cy="369.40" r="1.1" fill="none" stroke="#9a9a9a" stroke-width="0.5"/>
<line x1="260.95" y1="336.60" x2="260.95" y2="340.00" stroke="#484848" stroke-width="0.65"/>
<line x1="260.95" y1="354.40" x2="260.95" y2="357.80" stroke="#484848" stroke-width="0.65"/>
<rect x="255.90" y="340.00" width="10.10" height="14.40" fill="none" stroke="#484848" stroke-width="0.65"/>
<line x1="255.90" y1="345.20" x2="266.00" y2="345.20" stroke="#484848" stroke-width="0.65"/>
<circle cx="261.00" cy="336.60" r="1.1" fill="none" stroke="#9a9a9a" stroke-width="0.5"/>
<circle cx="262.00" cy="339.00" r="1.1" fill="none" stroke="#9a9a9a" stroke-width="0.5"/>
<circle cx="260.00" cy="350.00" r="1.1" fill="none" stroke="#9a9a9a" stroke-width="0.5"/>
<circle cx="261.00" cy="357.80" r="1.1" fill="none" stroke="#9a9a9a" stroke-width="0.5"/>
<polyline points="247.80,332.30 247.80,324.80 262.30,324.80 262.30,328.50" fill="none" stroke="#222" stroke-width="0.7" stroke-linejoin="round"/>
<text x="254.60" y="326.20" font-size="6.6" text-anchor="middle" fill="#1a1a1a">*</text>
<text x="247.00" y="384.40" font-size="6.6" text-anchor="middle" fill="#1a1a1a">CT</text>
<text x="261.00" y="384.40" font-size="6.6" text-anchor="middle" fill="#1a1a1a">PT</text>
<text x="217.70" y="349.40" font-size="6.6" text-anchor="middle" fill="#1a1a1a" transform="rotate(-90 217.7 349.4)">P<tspan font-size="4.2" dy="1.2">r</tspan></text>
<line x1="300.40" y1="321.20" x2="300.40" y2="376.90" stroke="#222" stroke-width="0.85"/>
<line x1="298.00" y1="376.90" x2="300.40" y2="376.90" stroke="#222" stroke-width="0.85"/>
<text x="297.00" y="378.95" font-size="6.6" text-anchor="end" fill="#1a1a1a">0.0</text>
<line x1="298.00" y1="362.97" x2="300.40" y2="362.97" stroke="#222" stroke-width="0.85"/>
<text x="297.00" y="365.02" font-size="6.6" text-anchor="end" fill="#1a1a1a">0.5</text>
<line x1="298.00" y1="349.05" x2="300.40" y2="349.05" stroke="#222" stroke-width="0.85"/>
<text x="297.00" y="351.10" font-size="6.6" text-anchor="end" fill="#1a1a1a">1.0</text>
<line x1="298.00" y1="335.12" x2="300.40" y2="335.12" stroke="#222" stroke-width="0.85"/>
<text x="297.00" y="337.17" font-size="6.6" text-anchor="end" fill="#1a1a1a">1.5</text>
<line x1="298.00" y1="321.20" x2="300.40" y2="321.20" stroke="#222" stroke-width="0.85"/>
<text x="297.00" y="323.25" font-size="6.6" text-anchor="end" fill="#1a1a1a">2.0</text>
<line x1="298.96" y1="369.94" x2="300.40" y2="369.94" stroke="#222" stroke-width="0.85"/>
<line x1="298.96" y1="356.01" x2="300.40" y2="356.01" stroke="#222" stroke-width="0.85"/>
<line x1="298.96" y1="342.09" x2="300.40" y2="342.09" stroke="#222" stroke-width="0.85"/>
<line x1="298.96" y1="328.16" x2="300.40" y2="328.16" stroke="#222" stroke-width="0.85"/>
<line x1="303.70" y1="377.00" x2="331.80" y2="377.00" stroke="#222" stroke-width="0.85"/>
<line x1="310.30" y1="334.70" x2="310.30" y2="338.50" stroke="#484848" stroke-width="0.65"/>
<line x1="310.30" y1="354.40" x2="310.30" y2="363.40" stroke="#484848" stroke-width="0.65"/>
<rect x="305.60" y="338.50" width="9.40" height="15.90" fill="none" stroke="#484848" stroke-width="0.65"/>
<line x1="305.60" y1="346.00" x2="315.00" y2="346.00" stroke="#484848" stroke-width="0.65"/>
<circle cx="310.30" cy="334.70" r="1.1" fill="none" stroke="#9a9a9a" stroke-width="0.5"/>
<circle cx="312.00" cy="352.00" r="1.1" fill="none" stroke="#9a9a9a" stroke-width="0.5"/>
<circle cx="308.00" cy="348.00" r="1.1" fill="none" stroke="#9a9a9a" stroke-width="0.5"/>
<circle cx="310.30" cy="363.40" r="1.1" fill="none" stroke="#9a9a9a" stroke-width="0.5"/>
<line x1="325.00" y1="333.20" x2="325.00" y2="340.00" stroke="#484848" stroke-width="0.65"/>
<line x1="325.00" y1="354.40" x2="325.00" y2="358.20" stroke="#484848" stroke-width="0.65"/>
<rect x="320.00" y="340.00" width="10.00" height="14.40" fill="none" stroke="#484848" stroke-width="0.65"/>
<line x1="320.00" y1="347.30" x2="330.00" y2="347.30" stroke="#484848" stroke-width="0.65"/>
<circle cx="325.00" cy="333.20" r="1.1" fill="none" stroke="#9a9a9a" stroke-width="0.5"/>
<circle cx="326.50" cy="342.00" r="1.1" fill="none" stroke="#9a9a9a" stroke-width="0.5"/>
<circle cx="323.00" cy="352.00" r="1.1" fill="none" stroke="#9a9a9a" stroke-width="0.5"/>
<circle cx="325.00" cy="358.20" r="1.1" fill="none" stroke="#9a9a9a" stroke-width="0.5"/>
<text x="309.60" y="384.40" font-size="6.6" text-anchor="middle" fill="#1a1a1a">CT</text>
<text x="324.00" y="384.40" font-size="6.6" text-anchor="middle" fill="#1a1a1a">PT</text>
<text x="283.00" y="347.40" font-size="6.8" text-anchor="middle" fill="#1a1a1a" transform="rotate(-90 283.0 347.4)">Quantal size (pA)</text>
</g>
</svg>
</body></html>
